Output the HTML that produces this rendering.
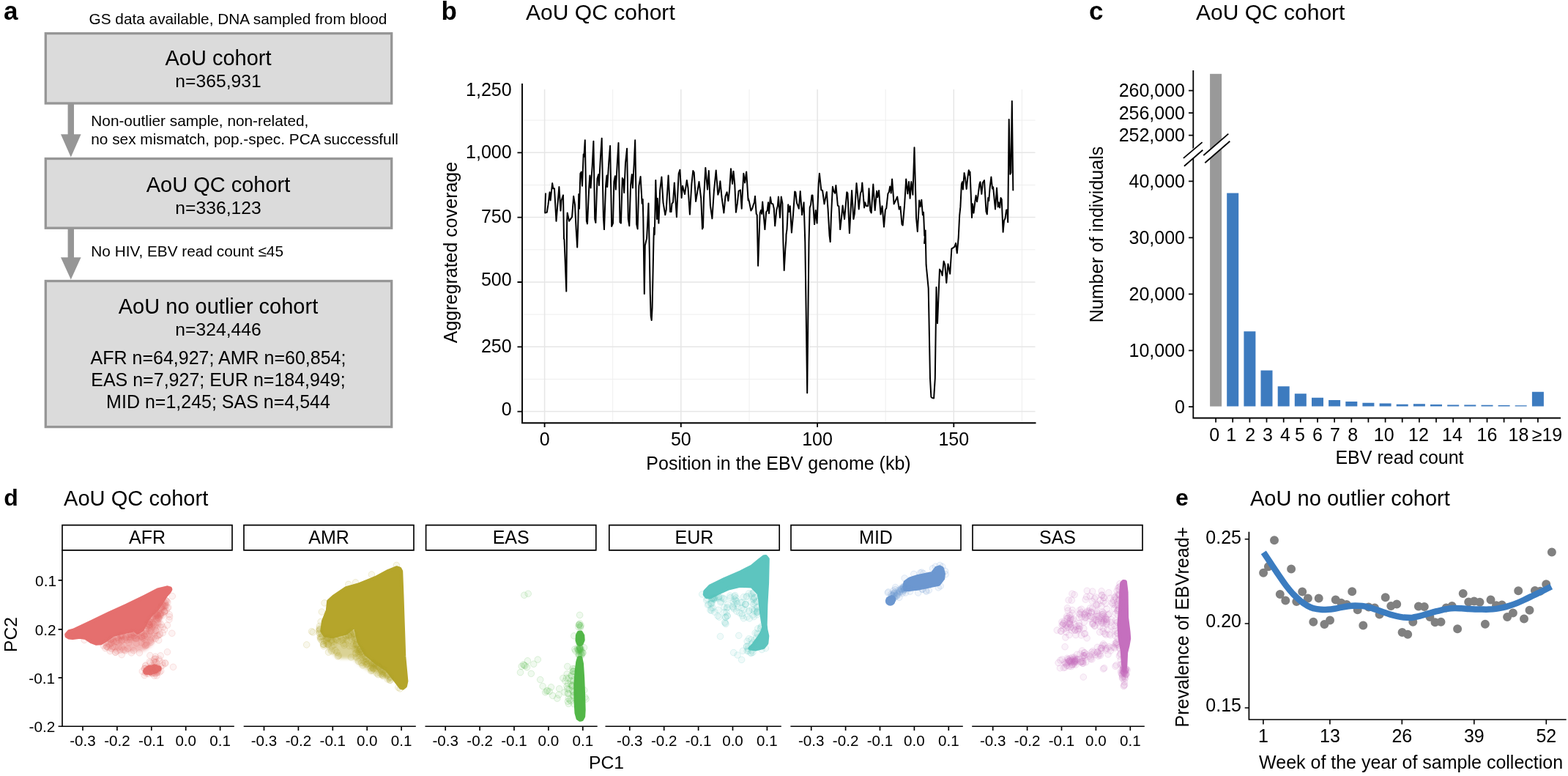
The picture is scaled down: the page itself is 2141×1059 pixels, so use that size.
<!DOCTYPE html>
<html lang="en"><head><meta charset="utf-8"><title>AoU EBV cohort figure</title>
<style>html,body{margin:0;padding:0;background:#fff;overflow:hidden}svg{display:block}text{font-family:"Liberation Sans",Arial,Helvetica,sans-serif;white-space:pre}</style>
</head><body>
<svg width="2141" height="1059" viewBox="0 0 2141 1059">
<rect width="2141" height="1059" fill="#fff"/>
<g id="panel-a">
<text x="5" y="27" font-size="35" font-weight="bold">a</text>
<text x="121.5" y="33" font-size="20.8">GS data available, DNA sampled from blood</text>
<rect x="62.3" y="45.6" width="472.40000000000003" height="95.4" fill="#dbdbdb" stroke="#969696" stroke-width="3.3"/>
<text x="298" y="89.4" font-size="29" text-anchor="middle">AoU cohort</text>
<text x="298" y="119" font-size="24.7" text-anchor="middle">n=365,931</text>
<path d="M92.6 141H101.0V183.2H110.6L96.8 214.6L83.0 183.2H92.6Z" fill="#969696"/>
<text x="124.3" y="172.3" font-size="20.8">Non-outlier sample, non-related,</text>
<text x="124.3" y="197.2" font-size="20.8">no sex mismatch, pop.-spec. PCA successfull</text>
<rect x="62.3" y="216.5" width="472.40000000000003" height="94.69999999999999" fill="#dbdbdb" stroke="#969696" stroke-width="3.3"/>
<text x="298" y="262" font-size="29" text-anchor="middle">AoU QC cohort</text>
<text x="298" y="292" font-size="24.7" text-anchor="middle">n=336,123</text>
<path d="M92.6 311H101.0V351.2H110.6L96.8 381.6L83.0 351.2H92.6Z" fill="#969696"/>
<text x="124.3" y="349.6" font-size="20.8">No HIV, EBV read count ≤45</text>
<rect x="62.3" y="383.5" width="472.40000000000003" height="199.10000000000002" fill="#dbdbdb" stroke="#969696" stroke-width="3.3"/>
<text x="298" y="428" font-size="29" text-anchor="middle">AoU no outlier cohort</text>
<text x="298" y="458" font-size="24.7" text-anchor="middle">n=324,446</text>
<text x="298" y="497" font-size="25" text-anchor="middle">AFR n=64,927; AMR n=60,854;</text>
<text x="298" y="527" font-size="25" text-anchor="middle">EAS n=7,927; EUR n=184,949;</text>
<text x="298" y="557" font-size="25" text-anchor="middle">MID n=1,245; SAS n=4,544</text>
</g>
<g id="panel-b">
<text x="602.4" y="27" font-size="35" font-weight="bold">b</text>
<text x="718" y="26.6" font-size="30.05">AoU QC cohort</text>
<path d="M714 517.4H1413.5M714 429.1H1413.5M714 340.8H1413.5M714 252.5H1413.5M714 164.1H1413.5M836.7 122V577M1023.0 122V577M1209.2 122V577M1395.4 122V577" stroke="#eeeeee" stroke-width="1" fill="none"/>
<path d="M714 561.6H1413.5M714 473.3H1413.5M714 385.0H1413.5M714 296.6H1413.5M714 208.3H1413.5M743.6 122V577M929.8 122V577M1116.1 122V577M1302.3 122V577" stroke="#e6e6e6" stroke-width="1.5" fill="none"/>
<path d="M745.0 264.3L744.2 290.5L746.8 289.8L748.5 279.2L750.6 262.2L751.6 273.5L754.2 250.1L755.3 257.2L757.0 257.2L759.5 301.8L763.4 255.1L765.5 287.6L766.6 273.5L769.0 266.4L770.0 325.9L770.5 326.7L773.3 397.6L774.2 300.0L774.7 290.5L777.1 301.8L781.1 296.1L783.2 267.8L785.0 279.2L786.7 313.1L788.2 337.4L789.2 310.0L790.3 265.0L791.0 284.8L792.4 236.7L793.8 234.5L795.0 253.7L796.7 210.5L797.4 214.0L798.8 191.3L800.9 301.8L802.0 305.4L804.4 253.7L805.4 239.5L806.6 256.5L808.7 226.7L810.4 192.7L812.2 299.0L813.4 303.9L815.5 243.7L817.2 238.1L817.9 252.9L820.0 214.0L821.7 188.8L823.9 296.1L825.0 313.1L827.1 253.7L828.5 239.5L829.2 255.1L831.4 219.7L833.1 199.1L835.2 308.9L837.0 304.6L838.4 248.0L839.9 240.2L840.8 258.6L842.7 225.3L844.5 194.9L846.5 303.2L847.9 304.6L849.8 243.0L851.2 245.2L852.2 262.9L854.0 222.5L856.1 202.7L857.8 299.0L859.3 308.2L861.1 252.9L862.8 238.1L863.9 256.5L865.8 222.5L867.2 191.3L869.2 306.1L870.6 312.4L872.4 253.7L874.6 240.9L876.7 277.7L877.7 272.1L878.3 297.2L879.8 401.1L880.8 335.0L882.1 329.3L883.1 325.5L884.0 308.5L885.5 277.4L886.8 344.4L887.8 401.1L888.7 431.3L889.7 437.0L890.6 420.0L892.5 325.5L893.1 310.4L893.8 319.9L895.3 245.9L897.0 299.0L897.7 270.7L899.4 304.6L901.2 259.3L903.4 241.6L905.5 276.3L908.3 293.3L909.7 286.2L911.4 259.3L912.6 239.5L915.1 289.1L916.5 289.1L917.5 277.7L919.0 276.3L920.8 249.4L923.9 296.1L925.3 265.0L926.7 236.7L928.4 231.7L930.6 269.9L932.1 253.7L935.0 265.0L937.8 245.9L939.5 256.5L941.9 292.6L944.4 250.8L946.3 233.1L947.7 235.2L950.1 274.9L952.2 262.2L954.5 248.0L957.2 270.7L959.0 312.4L960.0 310.3L961.0 270.7L963.3 228.9L966.0 258.6L967.8 233.1L969.9 280.6L972.4 298.3L974.9 260.7L977.7 232.4L980.3 265.7L981.7 262.2L983.4 247.3L985.5 269.2L988.4 290.5L990.5 267.8L992.6 262.2L994.4 274.2L996.1 259.3L998.0 230.3L1000.1 250.8L1001.5 233.8L1003.2 250.8L1004.9 289.8L1006.8 277.7L1008.6 260.7L1011.0 259.3L1012.7 284.8L1015.3 236.7L1017.1 249.4L1019.2 234.5L1021.6 273.5L1021.7 270.7L1022.8 274.2L1025.4 287.6L1027.1 284.8L1028.8 279.2L1029.9 276.3L1031.0 267.8L1032.7 291.9L1033.7 293.3L1035.1 362.7L1037.7 290.5L1039.1 286.9L1040.1 291.9L1041.2 275.6L1042.7 293.3L1044.4 313.1L1046.2 289.1L1047.6 287.6L1049.0 276.3L1050.0 291.2L1051.9 269.0L1053.3 277.7L1055.4 278.4L1056.8 284.8L1058.2 308.2L1060.4 286.2L1061.8 281.3L1062.9 268.5L1065.0 296.9L1066.7 268.5L1068.4 277.7L1069.4 330.0L1070.7 369.0L1072.3 340.0L1073.3 328.0L1073.5 320.2L1074.5 313.1L1076.2 279.2L1077.4 289.1L1078.8 281.3L1080.9 317.4L1083.0 293.3L1085.2 261.4L1086.3 262.2L1088.0 277.0L1089.4 280.6L1090.8 284.8L1092.7 261.0L1095.1 293.3L1097.6 276.3L1099.3 330.0L1102.2 536.2L1104.5 330.0L1105.7 283.4L1107.1 279.2L1108.5 266.4L1109.5 266.4L1112.1 306.1L1113.8 286.9L1115.6 304.6L1117.7 250.8L1118.9 236.7L1121.3 259.3L1123.1 260.0L1125.5 278.4L1128.8 261.9L1130.5 284.8L1132.6 321.6L1133.7 330.0L1135.0 293.3L1136.9 254.8L1138.3 260.7L1140.1 263.6L1141.4 252.9L1143.9 280.6L1145.4 281.3L1147.2 313.1L1148.9 297.6L1150.6 280.6L1153.1 299.0L1156.3 262.2L1157.4 263.6L1159.9 318.1L1163.1 260.0L1165.4 299.0L1166.8 291.9L1169.5 250.1L1171.0 265.0L1172.7 285.5L1174.9 263.6L1176.3 260.7L1177.3 249.4L1180.1 283.4L1181.2 276.3L1182.9 281.3L1185.2 281.3L1186.5 257.2L1188.3 287.6L1189.7 290.5L1192.3 251.5L1194.7 286.9L1197.1 260.7L1198.2 269.2L1200.1 260.0L1202.5 292.6L1204.6 281.3L1207.0 309.6L1208.9 286.2L1210.3 284.1L1212.4 264.3L1213.8 262.2L1215.2 254.4L1216.7 263.6L1218.1 244.4L1220.6 278.4L1223.0 273.5L1225.2 268.5L1227.7 285.5L1229.4 282.0L1231.5 306.1L1232.7 307.5L1235.1 279.2L1237.2 244.4L1239.3 264.3L1241.0 248.0L1242.6 270.7L1244.3 248.0L1246.4 265.7L1248.5 201.2L1251.1 297.6L1252.8 316.0L1255.2 273.5L1256.6 282.0L1258.3 272.8L1259.9 293.3L1261.0 289.8L1262.3 321.6L1263.7 314.6L1262.1 331.9L1263.6 314.7L1264.6 361.4L1267.7 393.3L1270.0 516.1L1271.4 541.8L1273.1 543.1L1275.1 543.6L1276.8 516.1L1278.5 392.1L1280.0 441.2L1283.0 367.5L1285.4 371.2L1286.6 376.1L1288.6 356.5L1290.3 361.4L1292.3 385.9L1294.5 360.2L1297.2 373.7L1299.4 339.3L1301.4 338.1L1303.3 336.8L1305.1 331.9L1306.8 345.4L1308.7 324.6L1310.2 293.9L1311.4 282.4L1312.9 251.3L1313.9 248.2L1314.9 258.5L1316.6 236.1L1318.0 243.0L1319.7 257.9L1321.6 239.8L1322.8 232.2L1323.7 238.8L1324.5 234.6L1327.0 297.0L1328.0 278.3L1329.5 290.7L1331.5 274.1L1332.6 266.8L1334.0 275.2L1335.3 267.9L1337.4 251.3L1338.4 248.2L1340.3 264.8L1341.9 249.2L1344.0 246.1L1346.5 288.7L1347.8 292.4L1349.2 270.0L1350.2 274.1L1351.7 255.4L1353.4 241.5L1355.0 257.5L1356.1 255.4L1359.0 285.5L1361.0 256.5L1362.7 282.4L1363.7 276.2L1365.2 283.5L1366.5 270.0L1367.7 272.0L1369.6 316.7L1371.0 301.1L1372.5 298.0L1374.1 286.6L1375.2 286.6L1376.2 303.2L1377.7 163.0L1379.3 237.8L1380.4 235.7L1381.8 138.0L1383.3 259.6" stroke="#000" stroke-width="2" fill="none" stroke-linejoin="round" stroke-linecap="round"/>
<path d="M713 114V577.2H1414.5" stroke="#000" stroke-width="1.9" fill="none"/>
<path d="M706.5 561.6H713M706.5 473.3H713M706.5 385.0H713M706.5 296.6H713M706.5 208.3H713M743.6 577.2V583M929.8 577.2V583M1116.1 577.2V583M1302.3 577.2V583" stroke="#000" stroke-width="1.8" fill="none"/>
<text x="698.6" y="567" font-size="25" text-anchor="end">0</text>
<text x="698.6" y="480.5" font-size="25" text-anchor="end">250</text>
<text x="698.6" y="390.3" font-size="25" text-anchor="end">500</text>
<text x="698.6" y="303.6" font-size="25" text-anchor="end">750</text>
<text x="698.6" y="215.9" font-size="25" text-anchor="end">1,000</text>
<text x="698.6" y="130.5" font-size="25" text-anchor="end">1,250</text>
<text x="743.6" y="607.5" font-size="25" text-anchor="middle">0</text>
<text x="929.835" y="607.5" font-size="25" text-anchor="middle">50</text>
<text x="1116.07" y="607.5" font-size="25" text-anchor="middle">100</text>
<text x="1302.305" y="607.5" font-size="25" text-anchor="middle">150</text>
<text x="1063" y="640.7" font-size="25" text-anchor="middle">Position in the EBV genome (kb)</text>
<text x="623.8" y="344.5" font-size="25" text-anchor="middle" transform="rotate(-90 623.8 344.5)">Aggregrated coverage</text>
</g>
<g id="panel-c">
<text x="1487" y="27" font-size="35" font-weight="bold">c</text>
<text x="1633" y="26.5" font-size="30">AoU QC cohort</text>
<rect x="1652.1" y="100.8" width="16" height="453.8" fill="#999"/>
<path d="M1675.2 263.6h16V554.6h-16ZM1698.4 452.3h16V554.6h-16ZM1721.5 505.4h16V554.6h-16ZM1744.7 527.2h16V554.6h-16ZM1767.8 537.2h16V554.6h-16ZM1791.0 542.7h16V554.6h-16ZM1814.1 545.9h16V554.6h-16ZM1837.3 548.1h16V554.6h-16ZM1860.4 549.8h16V554.6h-16ZM1883.6 550.5h16V554.6h-16ZM1906.7 551.7h16V554.6h-16ZM1929.9 551.3h16V554.6h-16ZM1953.0 552.1h16V554.6h-16ZM1976.2 552.4h16V554.6h-16ZM1999.3 552.5h16V554.6h-16ZM2022.5 552.8h16V554.6h-16ZM2045.6 553.1h16V554.6h-16ZM2068.7 553.3h16V554.6h-16ZM2091.9 534.7h16V554.6h-16Z" fill="#3d7bbf"/>
<path d="M1629.3 96V570.5H2131" stroke="#000" stroke-width="1.8" fill="none"/>
<path d="M1623 123.6H1629.3M1623 154.2H1629.3M1623 184.7H1629.3M1623 247.3H1629.3M1623 324.3H1629.3M1623 401.3H1629.3M1623 478.3H1629.3M1623 555.2H1629.3M1660.1 570.5V576.5M1683.2 570.5V576.5M1706.4 570.5V576.5M1729.5 570.5V576.5M1752.7 570.5V576.5M1775.8 570.5V576.5M1799.0 570.5V576.5M1822.1 570.5V576.5M1845.3 570.5V576.5M1868.4 570.5V576.5M1891.6 570.5V576.5M1914.7 570.5V576.5M1937.9 570.5V576.5M1961.0 570.5V576.5M1984.2 570.5V576.5M2007.3 570.5V576.5M2030.5 570.5V576.5M2053.6 570.5V576.5M2076.7 570.5V576.5M2099.9 570.5V576.5" stroke="#000" stroke-width="1.7" fill="none"/>
<text x="1618" y="132.0" font-size="25" text-anchor="end">260,000</text>
<text x="1618" y="162.6" font-size="25" text-anchor="end">256,000</text>
<text x="1618" y="193.1" font-size="25" text-anchor="end">252,000</text>
<text x="1618" y="255.70000000000002" font-size="25" text-anchor="end">40,000</text>
<text x="1618" y="332.7" font-size="25" text-anchor="end">30,000</text>
<text x="1618" y="409.7" font-size="25" text-anchor="end">20,000</text>
<text x="1618" y="486.7" font-size="25" text-anchor="end">10,000</text>
<text x="1618" y="563.6" font-size="25" text-anchor="end">0</text>
<text x="1658.1" y="601.6" font-size="25" text-anchor="middle">0</text>
<text x="1681.2" y="601.6" font-size="25" text-anchor="middle">1</text>
<text x="1707.1" y="601.6" font-size="25" text-anchor="middle">2</text>
<text x="1730.9" y="601.6" font-size="25" text-anchor="middle">3</text>
<text x="1755" y="601.6" font-size="25" text-anchor="middle">4</text>
<text x="1774.9" y="601.6" font-size="25" text-anchor="middle">5</text>
<text x="1798.9" y="601.6" font-size="25" text-anchor="middle">6</text>
<text x="1823" y="601.6" font-size="25" text-anchor="middle">7</text>
<text x="1847.3" y="601.6" font-size="25" text-anchor="middle">8</text>
<text x="1889.7" y="601.6" font-size="25" text-anchor="middle">10</text>
<text x="1936.9" y="601.6" font-size="25" text-anchor="middle">12</text>
<text x="1982.9" y="601.6" font-size="25" text-anchor="middle">14</text>
<text x="2030.4" y="601.6" font-size="25" text-anchor="middle">16</text>
<text x="2073.5" y="601.6" font-size="25" text-anchor="middle">18</text>
<text x="2133.2" y="601.6" font-size="25" text-anchor="end">≥19</text>
<path d="M1614 222L1644 197" stroke="#fff" stroke-width="10.5" fill="none"/>
<path d="M1643 218L1680 187" stroke="#fff" stroke-width="10" fill="none"/>
<path d="M1615.9 215.9L1641.6 194.1M1616.9 226.8L1642.3 204.7M1643.3 212L1677.3 182.6M1645.3 222.2L1679.3 192.8" stroke="#000" stroke-width="1.8" fill="none"/>
<text x="1911" y="633.4" font-size="25" text-anchor="middle">EBV read count</text>
<text x="1506" y="320" font-size="25" text-anchor="middle" transform="rotate(-90 1506 320)">Number of individuals</text>
</g>
<g id="panel-d">
<text x="5.3" y="690" font-size="32" font-weight="bold">d</text>
<text x="87" y="689.8" font-size="29.1">AoU QC cohort</text>
<defs><filter id="bl" filterUnits="userSpaceOnUse" x="0" y="740" width="1600" height="260" color-interpolation-filters="sRGB"><feGaussianBlur stdDeviation="2.2"/></filter></defs>
<g fill="#e56f6e" stroke="#e56f6e">
<path d="M140.1 881.2L155.2 868.5L182.8 862.2L187.7 866.1L195.2 861.5L203.0 847.2L216.1 833.1L225.6 819.2L228.0 822.9L221.7 836.2L219.0 853.0L214.9 869.0L206.9 880.9L196.9 888.0L170.0 889.9L150.1 887.5Z" stroke="none" fill-opacity="0.5" filter="url(#bl)"/>
<path d="M90.7 866.0L94.4 861.7L100.1 860.2L124.5 848.7L148.8 837.0L173.1 826.1L197.4 814.2L215.4 805.0L228.0 801.8L232.4 802.9L232.9 804.3L231.5 807.1L226.5 812.8L219.9 823.4L214.4 831.6L207.0 838.1L201.1 846.0L197.2 853.9L193.6 859.9L187.9 863.4L183.4 859.9L168.5 863.0L154.2 866.5L144.2 874.0L137.5 877.8L131.2 878.2L124.6 875.6L117.1 870.6L109.1 869.2L99.2 870.5L93.9 870.0L91.1 868.2Z" stroke-width="5" stroke-linejoin="round"/>
<circle cx="204.9" cy="914.4" r="7.0" stroke="none"/>
<circle cx="211.0" cy="913.2" r="6.6" stroke="none"/>
<circle cx="200.1" cy="916.1" r="5.1" stroke="none"/>
<circle cx="216.6" cy="912.3" r="4.1" stroke="none"/>
<g fill-opacity="0.09" stroke-opacity="0.2" stroke-width="0.9">
<circle cx="218.7" cy="840.5" r="4.3"/><circle cx="191.9" cy="867.7" r="4.3"/><circle cx="201.5" cy="851.2" r="4.3"/><circle cx="176.1" cy="876.9" r="4.3"/><circle cx="193.2" cy="863.1" r="4.3"/><circle cx="181.6" cy="869.6" r="4.3"/><circle cx="215.2" cy="840.1" r="4.3"/><circle cx="182.6" cy="863.8" r="4.3"/><circle cx="185.6" cy="866.0" r="4.3"/><circle cx="198.8" cy="880.2" r="4.3"/><circle cx="208.2" cy="855.2" r="4.3"/><circle cx="205.8" cy="861.3" r="4.3"/><circle cx="178.6" cy="865.6" r="4.3"/><circle cx="185.2" cy="871.9" r="4.3"/><circle cx="150.7" cy="873.7" r="4.3"/><circle cx="202.3" cy="851.1" r="4.3"/><circle cx="143.8" cy="884.6" r="4.3"/><circle cx="206.6" cy="860.8" r="4.3"/><circle cx="207.6" cy="841.7" r="4.3"/><circle cx="226.2" cy="819.4" r="4.3"/><circle cx="222.5" cy="855.8" r="4.3"/><circle cx="166.3" cy="883.3" r="4.3"/><circle cx="225.3" cy="827.9" r="4.3"/><circle cx="197.2" cy="872.3" r="4.3"/><circle cx="183.9" cy="870.4" r="4.3"/><circle cx="215.0" cy="836.0" r="4.3"/><circle cx="229.9" cy="829.0" r="4.3"/><circle cx="170.9" cy="887.7" r="4.3"/><circle cx="226.9" cy="819.9" r="4.3"/><circle cx="154.8" cy="876.5" r="4.3"/><circle cx="231.2" cy="838.6" r="4.3"/><circle cx="204.3" cy="852.8" r="4.3"/><circle cx="176.0" cy="866.2" r="4.3"/><circle cx="147.4" cy="883.4" r="4.3"/><circle cx="224.1" cy="821.1" r="4.3"/><circle cx="193.7" cy="868.7" r="4.3"/><circle cx="212.6" cy="860.6" r="4.3"/><circle cx="188.9" cy="867.7" r="4.3"/><circle cx="151.5" cy="872.1" r="4.3"/><circle cx="225.2" cy="826.5" r="4.3"/><circle cx="176.9" cy="869.2" r="4.3"/><circle cx="225.7" cy="823.1" r="4.3"/><circle cx="224.7" cy="834.2" r="4.3"/><circle cx="209.6" cy="852.4" r="4.3"/><circle cx="215.0" cy="837.7" r="4.3"/><circle cx="222.3" cy="828.3" r="4.3"/><circle cx="159.7" cy="888.2" r="4.3"/><circle cx="227.0" cy="826.3" r="4.3"/><circle cx="163.0" cy="873.6" r="4.3"/><circle cx="218.0" cy="866.1" r="4.3"/><circle cx="203.3" cy="856.7" r="4.3"/><circle cx="221.8" cy="824.7" r="4.3"/><circle cx="221.3" cy="836.5" r="4.3"/><circle cx="206.6" cy="851.8" r="4.3"/><circle cx="208.1" cy="850.7" r="4.3"/><circle cx="166.0" cy="866.8" r="4.3"/><circle cx="230.9" cy="845.6" r="4.3"/><circle cx="176.4" cy="872.3" r="4.3"/><circle cx="197.3" cy="869.3" r="4.3"/><circle cx="216.1" cy="867.2" r="4.3"/><circle cx="197.3" cy="867.5" r="4.3"/><circle cx="182.6" cy="887.8" r="4.3"/><circle cx="186.5" cy="877.9" r="4.3"/><circle cx="212.3" cy="843.7" r="4.3"/><circle cx="197.1" cy="879.0" r="4.3"/><circle cx="193.4" cy="870.9" r="4.3"/><circle cx="200.2" cy="853.6" r="4.3"/><circle cx="198.6" cy="881.5" r="4.3"/><circle cx="165.8" cy="874.7" r="4.3"/><circle cx="219.0" cy="855.8" r="4.3"/><circle cx="178.1" cy="870.6" r="4.3"/><circle cx="213.8" cy="840.0" r="4.3"/><circle cx="192.9" cy="876.9" r="4.3"/><circle cx="204.7" cy="861.0" r="4.3"/><circle cx="219.9" cy="838.7" r="4.3"/><circle cx="216.9" cy="844.0" r="4.3"/><circle cx="213.7" cy="844.5" r="4.3"/><circle cx="141.1" cy="881.0" r="4.3"/><circle cx="166.8" cy="873.3" r="4.3"/><circle cx="193.7" cy="862.8" r="4.3"/><circle cx="219.0" cy="829.5" r="4.3"/><circle cx="161.4" cy="870.7" r="4.3"/><circle cx="165.2" cy="868.3" r="4.3"/><circle cx="204.4" cy="853.8" r="4.3"/><circle cx="219.0" cy="836.6" r="4.3"/><circle cx="220.0" cy="852.2" r="4.3"/><circle cx="185.7" cy="871.3" r="4.3"/><circle cx="166.9" cy="873.6" r="4.3"/><circle cx="178.2" cy="866.2" r="4.3"/><circle cx="212.4" cy="836.9" r="4.3"/><circle cx="215.6" cy="845.3" r="4.3"/><circle cx="150.8" cy="872.9" r="4.3"/><circle cx="161.8" cy="882.9" r="4.3"/><circle cx="220.1" cy="827.6" r="4.3"/><circle cx="165.8" cy="867.6" r="4.3"/><circle cx="210.8" cy="840.3" r="4.3"/><circle cx="218.3" cy="865.2" r="4.3"/><circle cx="202.9" cy="848.6" r="4.3"/><circle cx="215.8" cy="839.9" r="4.3"/><circle cx="213.6" cy="838.3" r="4.3"/><circle cx="203.6" cy="852.8" r="4.3"/><circle cx="216.9" cy="841.0" r="4.3"/><circle cx="207.5" cy="843.4" r="4.3"/><circle cx="215.5" cy="842.9" r="4.3"/><circle cx="216.1" cy="836.6" r="4.3"/><circle cx="154.2" cy="874.2" r="4.3"/><circle cx="199.7" cy="858.0" r="4.3"/><circle cx="168.9" cy="886.8" r="4.3"/><circle cx="154.0" cy="870.8" r="4.3"/><circle cx="219.1" cy="837.7" r="4.3"/><circle cx="145.6" cy="882.5" r="4.3"/><circle cx="152.0" cy="876.0" r="4.3"/><circle cx="222.1" cy="863.8" r="4.3"/><circle cx="180.9" cy="862.9" r="4.3"/><circle cx="196.9" cy="867.3" r="4.3"/><circle cx="222.6" cy="839.5" r="4.3"/><circle cx="161.6" cy="872.8" r="4.3"/><circle cx="224.9" cy="834.5" r="4.3"/><circle cx="205.7" cy="843.6" r="4.3"/><circle cx="199.3" cy="864.8" r="4.3"/><circle cx="184.0" cy="867.5" r="4.3"/><circle cx="223.1" cy="826.4" r="4.3"/><circle cx="174.6" cy="885.2" r="4.3"/><circle cx="212.3" cy="871.6" r="4.3"/><circle cx="207.1" cy="856.9" r="4.3"/><circle cx="198.9" cy="860.3" r="4.3"/><circle cx="205.1" cy="849.0" r="4.3"/><circle cx="167.1" cy="868.2" r="4.3"/><circle cx="166.2" cy="893.5" r="4.3"/><circle cx="204.6" cy="848.6" r="4.3"/><circle cx="195.0" cy="870.6" r="4.3"/><circle cx="196.5" cy="860.2" r="4.3"/><circle cx="202.9" cy="852.9" r="4.3"/><circle cx="171.7" cy="869.7" r="4.3"/><circle cx="207.3" cy="849.2" r="4.3"/><circle cx="144.3" cy="876.6" r="4.3"/><circle cx="204.5" cy="855.5" r="4.3"/><circle cx="202.5" cy="850.5" r="4.3"/><circle cx="220.0" cy="829.3" r="4.3"/><circle cx="218.5" cy="838.0" r="4.3"/><circle cx="183.0" cy="863.4" r="4.3"/><circle cx="224.5" cy="834.1" r="4.3"/><circle cx="175.8" cy="869.2" r="4.3"/><circle cx="172.5" cy="867.8" r="4.3"/><circle cx="225.6" cy="825.2" r="4.3"/><circle cx="157.7" cy="889.9" r="4.3"/><circle cx="159.6" cy="875.7" r="4.3"/><circle cx="211.9" cy="841.2" r="4.3"/><circle cx="171.9" cy="869.6" r="4.3"/><circle cx="220.7" cy="827.1" r="4.3"/><circle cx="163.9" cy="887.2" r="4.3"/><circle cx="206.7" cy="870.8" r="4.3"/><circle cx="211.9" cy="837.6" r="4.3"/><circle cx="204.4" cy="848.5" r="4.3"/><circle cx="215.6" cy="849.6" r="4.3"/><circle cx="203.5" cy="852.4" r="4.3"/><circle cx="154.0" cy="882.6" r="4.3"/><circle cx="214.0" cy="837.5" r="4.3"/><circle cx="206.2" cy="876.3" r="4.3"/><circle cx="220.5" cy="830.6" r="4.3"/><circle cx="227.0" cy="833.4" r="4.3"/><circle cx="163.6" cy="867.0" r="4.3"/><circle cx="213.6" cy="845.2" r="4.3"/><circle cx="220.7" cy="828.2" r="4.3"/><circle cx="203.8" cy="865.6" r="4.3"/><circle cx="215.4" cy="839.2" r="4.3"/><circle cx="170.5" cy="872.4" r="4.3"/><circle cx="216.8" cy="843.3" r="4.3"/><circle cx="154.8" cy="872.7" r="4.3"/><circle cx="205.6" cy="873.9" r="4.3"/><circle cx="231.6" cy="841.8" r="4.3"/><circle cx="150.6" cy="878.4" r="4.3"/><circle cx="211.7" cy="854.1" r="4.3"/><circle cx="167.0" cy="866.6" r="4.3"/><circle cx="182.6" cy="867.7" r="4.3"/><circle cx="179.8" cy="863.5" r="4.3"/><circle cx="204.1" cy="852.2" r="4.3"/><circle cx="216.7" cy="873.7" r="4.3"/><circle cx="178.4" cy="872.9" r="4.3"/><circle cx="145.9" cy="882.2" r="4.3"/><circle cx="187.0" cy="868.5" r="4.3"/><circle cx="162.2" cy="877.8" r="4.3"/><circle cx="192.5" cy="869.4" r="4.3"/><circle cx="149.1" cy="879.3" r="4.3"/><circle cx="212.7" cy="840.2" r="4.3"/><circle cx="152.2" cy="885.2" r="4.3"/><circle cx="194.2" cy="868.6" r="4.3"/><circle cx="223.0" cy="832.1" r="4.3"/><circle cx="156.6" cy="882.8" r="4.3"/><circle cx="228.6" cy="829.6" r="4.3"/><circle cx="159.3" cy="869.2" r="4.3"/><circle cx="186.4" cy="870.7" r="4.3"/><circle cx="200.7" cy="880.2" r="4.3"/><circle cx="158.2" cy="875.2" r="4.3"/><circle cx="199.9" cy="877.6" r="4.3"/><circle cx="209.8" cy="841.4" r="4.3"/><circle cx="152.5" cy="872.1" r="4.3"/><circle cx="173.0" cy="873.7" r="4.3"/><circle cx="199.9" cy="861.9" r="4.3"/><circle cx="163.8" cy="867.7" r="4.3"/><circle cx="165.8" cy="869.5" r="4.3"/><circle cx="160.1" cy="870.0" r="4.3"/><circle cx="179.8" cy="867.5" r="4.3"/><circle cx="223.7" cy="828.0" r="4.3"/><circle cx="210.2" cy="852.0" r="4.3"/><circle cx="228.9" cy="822.0" r="4.3"/><circle cx="152.5" cy="877.5" r="4.3"/><circle cx="207.7" cy="844.6" r="4.3"/><circle cx="214.9" cy="838.7" r="4.3"/><circle cx="201.2" cy="868.7" r="4.3"/><circle cx="213.8" cy="911.3" r="4.3"/><circle cx="202.4" cy="915.6" r="4.3"/><circle cx="210.5" cy="908.5" r="4.3"/><circle cx="211.2" cy="912.8" r="4.3"/><circle cx="205.4" cy="917.0" r="4.3"/><circle cx="212.8" cy="916.6" r="4.3"/><circle cx="219.7" cy="915.7" r="4.3"/><circle cx="208.5" cy="916.1" r="4.3"/><circle cx="217.9" cy="917.2" r="4.3"/><circle cx="210.4" cy="918.5" r="4.3"/><circle cx="198.5" cy="918.5" r="4.3"/><circle cx="213.5" cy="913.8" r="4.3"/><circle cx="198.7" cy="909.0" r="4.3"/><circle cx="194.3" cy="916.1" r="4.3"/><circle cx="207.5" cy="911.6" r="4.3"/><circle cx="214.1" cy="911.3" r="4.3"/><circle cx="215.0" cy="917.7" r="4.3"/><circle cx="211.9" cy="910.8" r="4.3"/><circle cx="201.3" cy="915.1" r="4.3"/><circle cx="215.2" cy="911.0" r="4.3"/><circle cx="209.7" cy="918.0" r="4.3"/><circle cx="197.3" cy="921.6" r="4.3"/><circle cx="207.0" cy="912.9" r="4.3"/><circle cx="209.6" cy="914.2" r="4.3"/><circle cx="202.2" cy="912.6" r="4.3"/><circle cx="206.7" cy="910.9" r="4.3"/><circle cx="214.8" cy="917.1" r="4.3"/><circle cx="213.1" cy="908.9" r="4.3"/><circle cx="205.2" cy="916.7" r="4.3"/><circle cx="207.7" cy="908.1" r="4.3"/><circle cx="210.7" cy="922.1" r="4.3"/><circle cx="215.1" cy="914.5" r="4.3"/><circle cx="200.6" cy="918.6" r="4.3"/><circle cx="212.1" cy="913.6" r="4.3"/><circle cx="206.2" cy="917.8" r="4.3"/><circle cx="207.6" cy="912.4" r="4.3"/><circle cx="200.7" cy="913.4" r="4.3"/><circle cx="206.3" cy="912.9" r="4.3"/><circle cx="236.5" cy="910.3" r="4.3"/><circle cx="197.3" cy="912.3" r="4.3"/><circle cx="214.0" cy="922.0" r="4.3"/><circle cx="197.6" cy="912.7" r="4.3"/><circle cx="212.3" cy="912.1" r="4.3"/><circle cx="212.1" cy="913.5" r="4.3"/><circle cx="215.8" cy="915.3" r="4.3"/><circle cx="219.4" cy="910.0" r="4.3"/><circle cx="215.6" cy="913.5" r="4.3"/><circle cx="215.8" cy="912.8" r="4.3"/><circle cx="213.8" cy="918.7" r="4.3"/><circle cx="210.4" cy="911.1" r="4.3"/><circle cx="204.0" cy="913.0" r="4.3"/><circle cx="207.0" cy="918.4" r="4.3"/><circle cx="200.8" cy="914.3" r="4.3"/><circle cx="208.7" cy="914.9" r="4.3"/><circle cx="202.5" cy="919.6" r="4.3"/><circle cx="208.1" cy="912.0" r="4.3"/><circle cx="207.8" cy="919.1" r="4.3"/><circle cx="212.1" cy="919.1" r="4.3"/><circle cx="211.7" cy="913.3" r="4.3"/><circle cx="199.1" cy="911.7" r="4.3"/><circle cx="212.2" cy="896.1" r="4.3"/><circle cx="211.1" cy="899.0" r="4.3"/><circle cx="219.2" cy="894.8" r="4.3"/><circle cx="225.5" cy="904.6" r="4.3"/><circle cx="209.9" cy="902.4" r="4.3"/><circle cx="221.7" cy="904.6" r="4.3"/><circle cx="210.8" cy="900.0" r="4.3"/><circle cx="204.2" cy="903.1" r="4.3"/><circle cx="217.5" cy="901.8" r="4.3"/><circle cx="212.7" cy="899.1" r="4.3"/><circle cx="213.3" cy="903.9" r="4.3"/><circle cx="205.4" cy="904.5" r="4.3"/><circle cx="211.1" cy="903.9" r="4.3"/><circle cx="212.7" cy="903.3" r="4.3"/><circle cx="224.4" cy="836.2" r="4.3"/><circle cx="228.5" cy="853.2" r="4.3"/><circle cx="234.8" cy="864.2" r="4.3"/><circle cx="224.4" cy="859.3" r="4.3"/><circle cx="228.5" cy="889.7" r="4.3"/><circle cx="235.3" cy="813.6" r="4.3"/><circle cx="228.0" cy="820.4" r="4.3"/><circle cx="214.7" cy="867.8" r="4.3"/><circle cx="157.6" cy="890.4" r="4.3"/><circle cx="150.3" cy="888.5" r="4.3"/><circle cx="190.4" cy="890.9" r="4.3"/><circle cx="179.4" cy="890.9" r="4.3"/><circle cx="225.6" cy="905.5" r="4.3"/><circle cx="222.0" cy="907.9" r="4.3"/><circle cx="198.9" cy="907.9" r="4.3"/><circle cx="217.1" cy="899.4" r="4.3"/><circle cx="204.9" cy="894.5" r="4.3"/><circle cx="115.1" cy="873.4" r="4.3"/>
</g></g>
<g fill="#b5a52b" stroke="#b5a52b">
<path d="M440.6 867.8L473.3 866.6L483.1 856.9L487.9 876.3L497.6 893.3L512.2 905.5L526.8 915.2L534.1 926.1L521.9 922.9L507.4 917.6L491.6 907.9L481.8 898.7L463.6 898.7L450.3 889.7L441.3 877.5Z" stroke="none" fill-opacity="0.5" filter="url(#bl)"/>
<path d="M541.4 774.7L545.9 776.1L547.7 779.7L548.9 810.8L550.1 847.2L551.8 895.9L554.9 929.6L553.5 936.3L550.1 939.0L547.0 938.0L538.2 926.4L528.3 914.0L513.5 904.2L499.4 892.4L490.0 876.0L484.9 854.2L472.4 864.1L453.8 868.7L443.6 867.0L439.7 861.2L441.5 847.7L447.3 833.1L448.7 820.3L455.3 814.4L471.9 803.0L488.6 798.2L513.1 788.4L530.2 779.2Z" stroke-width="5" stroke-linejoin="round"/>
<g fill-opacity="0.09" stroke-opacity="0.2" stroke-width="0.9">
<circle cx="476.3" cy="868.2" r="4.3"/><circle cx="437.9" cy="869.0" r="4.3"/><circle cx="446.1" cy="875.3" r="4.3"/><circle cx="486.1" cy="879.8" r="4.3"/><circle cx="532.7" cy="924.0" r="4.3"/><circle cx="476.5" cy="867.1" r="4.3"/><circle cx="532.4" cy="928.4" r="4.3"/><circle cx="438.6" cy="869.8" r="4.3"/><circle cx="437.0" cy="869.7" r="4.3"/><circle cx="498.5" cy="903.6" r="4.3"/><circle cx="492.2" cy="885.5" r="4.3"/><circle cx="437.2" cy="858.8" r="4.3"/><circle cx="486.8" cy="879.7" r="4.3"/><circle cx="510.5" cy="908.4" r="4.3"/><circle cx="479.1" cy="866.2" r="4.3"/><circle cx="486.3" cy="891.2" r="4.3"/><circle cx="483.4" cy="865.1" r="4.3"/><circle cx="507.8" cy="914.7" r="4.3"/><circle cx="436.1" cy="861.3" r="4.3"/><circle cx="436.1" cy="857.6" r="4.3"/><circle cx="513.3" cy="907.4" r="4.3"/><circle cx="441.8" cy="881.6" r="4.3"/><circle cx="515.9" cy="909.9" r="4.3"/><circle cx="494.8" cy="897.7" r="4.3"/><circle cx="500.7" cy="899.8" r="4.3"/><circle cx="448.0" cy="870.5" r="4.3"/><circle cx="483.3" cy="869.3" r="4.3"/><circle cx="487.1" cy="878.1" r="4.3"/><circle cx="517.4" cy="909.6" r="4.3"/><circle cx="457.6" cy="887.4" r="4.3"/><circle cx="496.3" cy="901.6" r="4.3"/><circle cx="522.7" cy="913.7" r="4.3"/><circle cx="474.8" cy="865.7" r="4.3"/><circle cx="500.5" cy="906.5" r="4.3"/><circle cx="520.3" cy="920.0" r="4.3"/><circle cx="485.0" cy="873.3" r="4.3"/><circle cx="492.1" cy="889.2" r="4.3"/><circle cx="483.1" cy="864.3" r="4.3"/><circle cx="507.5" cy="909.3" r="4.3"/><circle cx="472.9" cy="868.0" r="4.3"/><circle cx="486.2" cy="885.7" r="4.3"/><circle cx="492.2" cy="885.8" r="4.3"/><circle cx="448.5" cy="890.1" r="4.3"/><circle cx="450.9" cy="871.2" r="4.3"/><circle cx="485.8" cy="868.5" r="4.3"/><circle cx="485.7" cy="871.7" r="4.3"/><circle cx="501.2" cy="906.2" r="4.3"/><circle cx="458.7" cy="873.5" r="4.3"/><circle cx="494.4" cy="892.4" r="4.3"/><circle cx="486.6" cy="878.8" r="4.3"/><circle cx="442.2" cy="879.3" r="4.3"/><circle cx="523.1" cy="916.6" r="4.3"/><circle cx="522.3" cy="921.4" r="4.3"/><circle cx="506.0" cy="905.1" r="4.3"/><circle cx="514.2" cy="912.1" r="4.3"/><circle cx="461.5" cy="873.9" r="4.3"/><circle cx="487.6" cy="876.1" r="4.3"/><circle cx="521.2" cy="916.2" r="4.3"/><circle cx="490.4" cy="886.5" r="4.3"/><circle cx="489.9" cy="894.6" r="4.3"/><circle cx="480.6" cy="872.0" r="4.3"/><circle cx="489.4" cy="902.5" r="4.3"/><circle cx="523.3" cy="913.4" r="4.3"/><circle cx="490.7" cy="883.7" r="4.3"/><circle cx="445.4" cy="873.4" r="4.3"/><circle cx="511.3" cy="906.8" r="4.3"/><circle cx="453.8" cy="873.3" r="4.3"/><circle cx="513.7" cy="909.0" r="4.3"/><circle cx="492.3" cy="890.3" r="4.3"/><circle cx="529.0" cy="921.2" r="4.3"/><circle cx="439.9" cy="875.1" r="4.3"/><circle cx="531.1" cy="926.5" r="4.3"/><circle cx="485.4" cy="891.4" r="4.3"/><circle cx="468.8" cy="878.0" r="4.3"/><circle cx="509.3" cy="911.6" r="4.3"/><circle cx="447.6" cy="870.3" r="4.3"/><circle cx="472.7" cy="872.5" r="4.3"/><circle cx="482.6" cy="878.8" r="4.3"/><circle cx="525.7" cy="917.4" r="4.3"/><circle cx="522.7" cy="919.0" r="4.3"/><circle cx="449.0" cy="870.5" r="4.3"/><circle cx="442.6" cy="874.0" r="4.3"/><circle cx="468.6" cy="873.2" r="4.3"/><circle cx="452.3" cy="873.9" r="4.3"/><circle cx="448.2" cy="880.5" r="4.3"/><circle cx="458.0" cy="871.1" r="4.3"/><circle cx="509.8" cy="906.3" r="4.3"/><circle cx="507.1" cy="903.6" r="4.3"/><circle cx="533.5" cy="924.2" r="4.3"/><circle cx="522.6" cy="920.8" r="4.3"/><circle cx="510.9" cy="904.9" r="4.3"/><circle cx="435.9" cy="859.8" r="4.3"/><circle cx="498.2" cy="895.2" r="4.3"/><circle cx="488.5" cy="886.2" r="4.3"/><circle cx="503.5" cy="901.9" r="4.3"/><circle cx="470.0" cy="880.7" r="4.3"/><circle cx="477.8" cy="862.8" r="4.3"/><circle cx="447.8" cy="878.9" r="4.3"/><circle cx="529.2" cy="927.0" r="4.3"/><circle cx="445.5" cy="877.9" r="4.3"/><circle cx="472.0" cy="878.8" r="4.3"/><circle cx="486.2" cy="896.7" r="4.3"/><circle cx="503.6" cy="901.8" r="4.3"/><circle cx="522.9" cy="922.6" r="4.3"/><circle cx="495.1" cy="894.3" r="4.3"/><circle cx="480.8" cy="881.4" r="4.3"/><circle cx="489.1" cy="883.7" r="4.3"/><circle cx="436.2" cy="864.4" r="4.3"/><circle cx="514.6" cy="908.1" r="4.3"/><circle cx="483.9" cy="873.9" r="4.3"/><circle cx="452.3" cy="872.5" r="4.3"/><circle cx="481.1" cy="862.3" r="4.3"/><circle cx="494.1" cy="888.0" r="4.3"/><circle cx="447.6" cy="870.7" r="4.3"/><circle cx="486.1" cy="881.2" r="4.3"/><circle cx="446.1" cy="870.8" r="4.3"/><circle cx="471.4" cy="869.3" r="4.3"/><circle cx="528.9" cy="919.6" r="4.3"/><circle cx="436.5" cy="859.2" r="4.3"/><circle cx="477.1" cy="881.7" r="4.3"/><circle cx="489.6" cy="891.9" r="4.3"/><circle cx="501.0" cy="903.8" r="4.3"/><circle cx="441.9" cy="879.1" r="4.3"/><circle cx="459.3" cy="872.9" r="4.3"/><circle cx="480.1" cy="861.3" r="4.3"/><circle cx="478.5" cy="865.4" r="4.3"/><circle cx="491.9" cy="886.1" r="4.3"/><circle cx="464.4" cy="868.5" r="4.3"/><circle cx="496.5" cy="896.0" r="4.3"/><circle cx="483.7" cy="870.8" r="4.3"/><circle cx="518.9" cy="911.9" r="4.3"/><circle cx="533.4" cy="926.0" r="4.3"/><circle cx="520.3" cy="914.8" r="4.3"/><circle cx="490.1" cy="889.2" r="4.3"/><circle cx="524.4" cy="919.7" r="4.3"/><circle cx="506.6" cy="915.5" r="4.3"/><circle cx="510.7" cy="912.0" r="4.3"/><circle cx="436.4" cy="863.8" r="4.3"/><circle cx="528.2" cy="921.8" r="4.3"/><circle cx="468.1" cy="871.0" r="4.3"/><circle cx="493.5" cy="904.6" r="4.3"/><circle cx="519.6" cy="913.7" r="4.3"/><circle cx="460.0" cy="890.2" r="4.3"/><circle cx="464.1" cy="875.1" r="4.3"/><circle cx="448.1" cy="879.3" r="4.3"/><circle cx="516.3" cy="920.6" r="4.3"/><circle cx="502.8" cy="905.1" r="4.3"/><circle cx="495.2" cy="891.5" r="4.3"/><circle cx="494.1" cy="889.1" r="4.3"/><circle cx="524.1" cy="915.0" r="4.3"/><circle cx="453.4" cy="882.2" r="4.3"/><circle cx="455.9" cy="880.1" r="4.3"/><circle cx="483.7" cy="864.4" r="4.3"/><circle cx="517.6" cy="910.9" r="4.3"/><circle cx="455.7" cy="875.5" r="4.3"/><circle cx="508.1" cy="905.9" r="4.3"/><circle cx="508.9" cy="904.6" r="4.3"/><circle cx="440.5" cy="868.0" r="4.3"/><circle cx="517.6" cy="909.9" r="4.3"/><circle cx="484.8" cy="886.2" r="4.3"/><circle cx="447.6" cy="871.4" r="4.3"/><circle cx="440.0" cy="868.9" r="4.3"/><circle cx="437.6" cy="872.4" r="4.3"/><circle cx="499.0" cy="899.2" r="4.3"/><circle cx="484.7" cy="865.0" r="4.3"/><circle cx="508.0" cy="906.8" r="4.3"/><circle cx="491.6" cy="893.8" r="4.3"/><circle cx="533.2" cy="928.1" r="4.3"/><circle cx="506.0" cy="911.9" r="4.3"/><circle cx="488.8" cy="881.2" r="4.3"/><circle cx="509.9" cy="909.8" r="4.3"/><circle cx="478.2" cy="863.3" r="4.3"/><circle cx="486.0" cy="870.9" r="4.3"/><circle cx="467.0" cy="873.4" r="4.3"/><circle cx="500.0" cy="898.4" r="4.3"/><circle cx="516.4" cy="908.8" r="4.3"/><circle cx="441.3" cy="879.5" r="4.3"/><circle cx="438.6" cy="864.7" r="4.3"/><circle cx="490.2" cy="888.7" r="4.3"/><circle cx="476.1" cy="867.0" r="4.3"/><circle cx="526.1" cy="918.4" r="4.3"/><circle cx="474.0" cy="873.7" r="4.3"/><circle cx="530.8" cy="924.5" r="4.3"/><circle cx="511.7" cy="906.1" r="4.3"/><circle cx="472.6" cy="867.0" r="4.3"/><circle cx="499.3" cy="902.9" r="4.3"/><circle cx="498.9" cy="895.8" r="4.3"/><circle cx="487.4" cy="886.8" r="4.3"/><circle cx="519.2" cy="911.6" r="4.3"/><circle cx="452.9" cy="876.3" r="4.3"/><circle cx="427.2" cy="862.9" r="4.3"/><circle cx="425.5" cy="861.7" r="4.3"/><circle cx="418.7" cy="879.9" r="4.3"/><circle cx="461.2" cy="895.7" r="4.3"/><circle cx="462.4" cy="894.8" r="4.3"/><circle cx="479.4" cy="897.0" r="4.3"/><circle cx="495.2" cy="907.9" r="4.3"/><circle cx="509.8" cy="912.7" r="4.3"/><circle cx="508.6" cy="911.5" r="4.3"/><circle cx="514.6" cy="918.8" r="4.3"/><circle cx="543.8" cy="938.2" r="4.3"/><circle cx="546.2" cy="939.9" r="4.3"/><circle cx="507.4" cy="784.0" r="4.3"/><circle cx="475.8" cy="797.4" r="4.3"/><circle cx="485.5" cy="794.9" r="4.3"/><circle cx="541.4" cy="771.4" r="4.3"/><circle cx="438.1" cy="871.4" r="4.3"/><circle cx="452.7" cy="888.5" r="4.3"/><circle cx="439.3" cy="835.0" r="4.3"/><circle cx="438.1" cy="848.4" r="4.3"/><circle cx="443.0" cy="822.9" r="4.3"/><circle cx="436.4" cy="854.4" r="4.3"/>
</g></g>
<g fill="#53b748" stroke="#53b748">
<path d="M788.2 881.2L795.5 881.2L796.0 896.2L787.7 896.2Z" stroke="none" fill-opacity="0.55" filter="url(#bl)"/>
<path d="M790.4 897.8L792.8 897.6L794.5 905.8L795.7 925.0L796.5 944.4L797.2 968.6L796.7 977.7L794.5 981.7L792.0 982.3L789.1 980.5L787.0 973.1L786.0 956.4L785.8 934.7L787.2 915.4L788.7 903.5Z" stroke-width="5" stroke-linejoin="round"/>
<path d="M790.2 863.3L793.3 863.1L795.8 867.3L796.2 873.5L794.2 878.4L791.7 879.8L789.6 878.5L788.0 873.6L788.4 867.1Z" stroke-width="5" stroke-linejoin="round"/>
<g fill-opacity="0.09" stroke-opacity="0.2" stroke-width="0.9">
<circle cx="768.8" cy="925.5" r="4.3"/><circle cx="780.3" cy="922.7" r="4.3"/><circle cx="776.2" cy="953.1" r="4.3"/><circle cx="782.5" cy="943.7" r="4.3"/><circle cx="782.2" cy="912.5" r="4.3"/><circle cx="774.2" cy="919.9" r="4.3"/><circle cx="774.6" cy="939.9" r="4.3"/><circle cx="780.1" cy="921.6" r="4.3"/><circle cx="778.0" cy="955.1" r="4.3"/><circle cx="782.8" cy="916.5" r="4.3"/><circle cx="779.4" cy="956.7" r="4.3"/><circle cx="779.5" cy="934.0" r="4.3"/><circle cx="776.4" cy="960.4" r="4.3"/><circle cx="774.1" cy="936.4" r="4.3"/><circle cx="782.1" cy="915.9" r="4.3"/><circle cx="782.4" cy="949.4" r="4.3"/><circle cx="783.1" cy="944.9" r="4.3"/><circle cx="776.9" cy="940.9" r="4.3"/><circle cx="781.5" cy="942.1" r="4.3"/><circle cx="782.6" cy="929.8" r="4.3"/><circle cx="774.8" cy="909.5" r="4.3"/><circle cx="784.1" cy="912.9" r="4.3"/><circle cx="781.3" cy="936.4" r="4.3"/><circle cx="775.7" cy="933.1" r="4.3"/><circle cx="776.4" cy="925.5" r="4.3"/><circle cx="776.2" cy="946.5" r="4.3"/><circle cx="775.3" cy="946.1" r="4.3"/><circle cx="783.2" cy="951.6" r="4.3"/><circle cx="781.4" cy="935.0" r="4.3"/><circle cx="782.9" cy="928.0" r="4.3"/><circle cx="783.5" cy="948.6" r="4.3"/><circle cx="783.8" cy="919.2" r="4.3"/><circle cx="783.0" cy="916.4" r="4.3"/><circle cx="783.7" cy="960.7" r="4.3"/><circle cx="771.8" cy="929.3" r="4.3"/><circle cx="779.2" cy="928.7" r="4.3"/><circle cx="773.5" cy="925.3" r="4.3"/><circle cx="780.4" cy="935.9" r="4.3"/><circle cx="791.4" cy="887.4" r="4.3"/><circle cx="794.1" cy="893.9" r="4.3"/><circle cx="795.9" cy="891.2" r="4.3"/><circle cx="785.9" cy="888.4" r="4.3"/><circle cx="793.0" cy="885.5" r="4.3"/><circle cx="790.3" cy="892.8" r="4.3"/><circle cx="791.9" cy="884.1" r="4.3"/><circle cx="790.3" cy="875.7" r="4.3"/><circle cx="791.6" cy="883.7" r="4.3"/><circle cx="791.5" cy="883.8" r="4.3"/><circle cx="789.6" cy="886.7" r="4.3"/><circle cx="797.5" cy="883.8" r="4.3"/><circle cx="789.1" cy="886.6" r="4.3"/><circle cx="793.9" cy="892.3" r="4.3"/><circle cx="793.1" cy="887.5" r="4.3"/><circle cx="791.9" cy="885.6" r="4.3"/><circle cx="791.2" cy="885.5" r="4.3"/><circle cx="788.5" cy="884.7" r="4.3"/><circle cx="795.7" cy="890.6" r="4.3"/><circle cx="790.0" cy="888.5" r="4.3"/><circle cx="790.6" cy="894.1" r="4.3"/><circle cx="791.5" cy="886.2" r="4.3"/><circle cx="792.3" cy="854.6" r="4.3"/><circle cx="790.4" cy="852.5" r="4.3"/><circle cx="791.6" cy="850.8" r="4.3"/><circle cx="790.1" cy="855.9" r="4.3"/><circle cx="792.6" cy="856.1" r="4.3"/><circle cx="790.7" cy="852.8" r="4.3"/><circle cx="791.0" cy="853.0" r="4.3"/><circle cx="793.2" cy="853.5" r="4.3"/><circle cx="791.6" cy="839.4" r="4.3"/><circle cx="783.8" cy="867.8" r="4.3"/><circle cx="784.8" cy="886.0" r="4.3"/><circle cx="794.0" cy="889.7" r="4.3"/><circle cx="798.9" cy="951.6" r="4.3"/><circle cx="800.1" cy="954.0" r="4.3"/><circle cx="797.7" cy="941.9" r="4.3"/><circle cx="715.8" cy="812.2" r="4.3"/><circle cx="721.2" cy="810.2" r="4.3"/><circle cx="720.4" cy="901.8" r="4.3"/><circle cx="734.3" cy="900.1" r="4.3"/><circle cx="728.7" cy="906.2" r="4.3"/><circle cx="714.6" cy="906.9" r="4.3"/><circle cx="717.0" cy="908.6" r="4.3"/><circle cx="719.5" cy="910.6" r="4.3"/><circle cx="712.2" cy="909.3" r="4.3"/><circle cx="710.5" cy="917.6" r="4.3"/><circle cx="725.3" cy="919.3" r="4.3"/><circle cx="715.8" cy="907.9" r="4.3"/><circle cx="737.7" cy="927.6" r="4.3"/><circle cx="741.1" cy="936.5" r="4.3"/><circle cx="752.5" cy="937.8" r="4.3"/><circle cx="747.6" cy="942.4" r="4.3"/><circle cx="744.7" cy="944.8" r="4.3"/><circle cx="750.1" cy="943.6" r="4.3"/><circle cx="746.4" cy="943.1" r="4.3"/><circle cx="763.7" cy="939.9" r="4.3"/><circle cx="754.7" cy="949.4" r="4.3"/><circle cx="760.8" cy="953.1" r="4.3"/><circle cx="762.9" cy="948.2" r="4.3"/><circle cx="771.0" cy="944.8" r="4.3"/><circle cx="775.3" cy="957.2" r="4.3"/>
</g></g>
<g fill="#5dc5bf" stroke="#5dc5bf">
<path d="M1045.6 759.5L1048.3 762.9L1047.6 795.3L1045.9 825.4L1045.2 852.8L1045.9 859.2L1047.8 867.9L1046.9 877.6L1042.5 883.3L1031.5 886.0L1023.9 884.7L1024.0 884.8L1028.7 879.9L1035.6 870.5L1040.4 862.7L1042.8 855.8L1041.3 847.8L1039.1 832.8L1037.6 817.7L1035.8 809.4L1026.5 800.1L1010.2 799.3L994.7 803.0L979.4 810.0L969.3 815.0L964.7 814.5L962.2 811.3L962.8 806.9L969.5 800.1L988.8 790.6L1011.4 780.7L1026.7 773.0L1037.6 763.9L1043.1 759.7Z" stroke-width="5" stroke-linejoin="round"/>
<g fill-opacity="0.09" stroke-opacity="0.2" stroke-width="0.9">
<circle cx="1029.9" cy="833.9" r="4.3"/><circle cx="1015.9" cy="831.7" r="4.3"/><circle cx="1013.0" cy="837.5" r="4.3"/><circle cx="1029.0" cy="824.5" r="4.3"/><circle cx="975.8" cy="816.9" r="4.3"/><circle cx="972.3" cy="816.6" r="4.3"/><circle cx="991.9" cy="835.5" r="4.3"/><circle cx="997.1" cy="815.6" r="4.3"/><circle cx="1025.7" cy="821.8" r="4.3"/><circle cx="1030.9" cy="821.9" r="4.3"/><circle cx="972.0" cy="823.6" r="4.3"/><circle cx="971.3" cy="833.2" r="4.3"/><circle cx="989.0" cy="835.6" r="4.3"/><circle cx="1006.7" cy="823.8" r="4.3"/><circle cx="1019.1" cy="814.5" r="4.3"/><circle cx="1018.0" cy="824.6" r="4.3"/><circle cx="1013.2" cy="821.9" r="4.3"/><circle cx="988.9" cy="817.7" r="4.3"/><circle cx="1018.1" cy="824.4" r="4.3"/><circle cx="1026.3" cy="813.3" r="4.3"/><circle cx="973.3" cy="829.5" r="4.3"/><circle cx="1013.7" cy="840.4" r="4.3"/><circle cx="1023.4" cy="844.0" r="4.3"/><circle cx="993.0" cy="840.5" r="4.3"/><circle cx="1001.2" cy="829.1" r="4.3"/><circle cx="980.8" cy="832.4" r="4.3"/><circle cx="1019.9" cy="842.0" r="4.3"/><circle cx="971.3" cy="830.0" r="4.3"/><circle cx="1003.1" cy="818.0" r="4.3"/><circle cx="1015.3" cy="843.8" r="4.3"/><circle cx="1005.0" cy="815.9" r="4.3"/><circle cx="1004.6" cy="819.3" r="4.3"/><circle cx="970.4" cy="823.7" r="4.3"/><circle cx="1002.1" cy="830.9" r="4.3"/><circle cx="1027.2" cy="831.5" r="4.3"/><circle cx="1030.5" cy="830.8" r="4.3"/><circle cx="1002.4" cy="824.5" r="4.3"/><circle cx="993.2" cy="828.8" r="4.3"/><circle cx="1015.2" cy="814.7" r="4.3"/><circle cx="1003.6" cy="812.5" r="4.3"/><circle cx="1005.7" cy="834.2" r="4.3"/><circle cx="1030.0" cy="815.1" r="4.3"/><circle cx="1001.4" cy="821.2" r="4.3"/><circle cx="990.9" cy="842.4" r="4.3"/><circle cx="1012.9" cy="829.8" r="4.3"/><circle cx="1029.2" cy="817.3" r="4.3"/><circle cx="975.9" cy="835.2" r="4.3"/><circle cx="1005.7" cy="820.6" r="4.3"/><circle cx="1025.9" cy="810.6" r="4.3"/><circle cx="993.2" cy="840.5" r="4.3"/><circle cx="1028.7" cy="809.4" r="4.3"/><circle cx="1033.6" cy="836.0" r="4.3"/><circle cx="1028.6" cy="818.1" r="4.3"/><circle cx="1029.6" cy="815.6" r="4.3"/><circle cx="993.7" cy="825.0" r="4.3"/><circle cx="982.0" cy="842.1" r="4.3"/><circle cx="1028.0" cy="839.3" r="4.3"/><circle cx="1022.3" cy="834.3" r="4.3"/><circle cx="981.1" cy="814.8" r="4.3"/><circle cx="984.9" cy="815.7" r="4.3"/><circle cx="1007.5" cy="828.7" r="4.3"/><circle cx="988.9" cy="828.9" r="4.3"/><circle cx="1019.9" cy="813.8" r="4.3"/><circle cx="990.4" cy="842.2" r="4.3"/><circle cx="1033.7" cy="829.7" r="4.3"/><circle cx="1009.8" cy="836.4" r="4.3"/><circle cx="1011.6" cy="822.5" r="4.3"/><circle cx="987.7" cy="816.4" r="4.3"/><circle cx="1002.6" cy="813.9" r="4.3"/><circle cx="983.7" cy="822.0" r="4.3"/><circle cx="1033.8" cy="828.2" r="4.3"/><circle cx="1000.4" cy="827.6" r="4.3"/><circle cx="975.4" cy="815.6" r="4.3"/><circle cx="992.4" cy="830.0" r="4.3"/><circle cx="1017.6" cy="825.2" r="4.3"/><circle cx="973.8" cy="817.3" r="4.3"/><circle cx="1029.4" cy="841.6" r="4.3"/><circle cx="974.8" cy="818.3" r="4.3"/><circle cx="964.7" cy="819.2" r="4.3"/><circle cx="1034.3" cy="835.1" r="4.3"/><circle cx="978.0" cy="815.3" r="4.3"/><circle cx="1028.7" cy="808.6" r="4.3"/><circle cx="974.7" cy="816.9" r="4.3"/><circle cx="1033.4" cy="821.1" r="4.3"/><circle cx="996.8" cy="813.0" r="4.3"/><circle cx="981.9" cy="814.3" r="4.3"/><circle cx="1022.6" cy="809.7" r="4.3"/><circle cx="1034.2" cy="838.8" r="4.3"/><circle cx="1033.3" cy="820.4" r="4.3"/><circle cx="1033.6" cy="834.8" r="4.3"/><circle cx="1034.5" cy="833.3" r="4.3"/><circle cx="981.1" cy="816.5" r="4.3"/><circle cx="972.9" cy="816.2" r="4.3"/><circle cx="975.6" cy="815.5" r="4.3"/><circle cx="971.2" cy="823.3" r="4.3"/><circle cx="1022.9" cy="833.2" r="4.3"/><circle cx="971.6" cy="817.3" r="4.3"/><circle cx="971.6" cy="819.9" r="4.3"/><circle cx="965.7" cy="817.2" r="4.3"/><circle cx="984.5" cy="820.8" r="4.3"/><circle cx="1020.1" cy="888.3" r="4.3"/><circle cx="1026.3" cy="878.9" r="4.3"/><circle cx="1025.7" cy="872.9" r="4.3"/><circle cx="1021.3" cy="885.4" r="4.3"/><circle cx="1034.8" cy="865.5" r="4.3"/><circle cx="1033.7" cy="864.4" r="4.3"/><circle cx="1031.2" cy="863.9" r="4.3"/><circle cx="1025.9" cy="891.3" r="4.3"/><circle cx="1021.8" cy="881.4" r="4.3"/><circle cx="1030.6" cy="873.5" r="4.3"/><circle cx="1019.7" cy="881.7" r="4.3"/><circle cx="1038.5" cy="856.7" r="4.3"/><circle cx="1027.4" cy="877.0" r="4.3"/><circle cx="1028.0" cy="890.2" r="4.3"/><circle cx="1040.2" cy="886.5" r="4.3"/><circle cx="1039.5" cy="854.8" r="4.3"/><circle cx="1026.5" cy="887.9" r="4.3"/><circle cx="1034.8" cy="857.8" r="4.3"/><circle cx="1038.9" cy="857.9" r="4.3"/><circle cx="1032.7" cy="870.2" r="4.3"/><circle cx="1021.7" cy="888.3" r="4.3"/><circle cx="1019.3" cy="882.7" r="4.3"/><circle cx="983.5" cy="868.5" r="4.3"/><circle cx="1008.8" cy="867.3" r="4.3"/><circle cx="1022.6" cy="871.7" r="4.3"/><circle cx="1020.2" cy="875.1" r="4.3"/><circle cx="1001.7" cy="890.6" r="4.3"/><circle cx="1007.1" cy="894.0" r="4.3"/><circle cx="1014.3" cy="888.2" r="4.3"/><circle cx="1012.6" cy="900.4" r="4.3"/><circle cx="991.0" cy="851.5" r="4.3"/><circle cx="989.6" cy="849.1" r="4.3"/><circle cx="990.3" cy="850.3" r="4.3"/><circle cx="980.1" cy="840.4" r="4.3"/><circle cx="969.9" cy="832.6" r="4.3"/><circle cx="966.5" cy="825.5" r="4.3"/><circle cx="958.7" cy="811.0" r="4.3"/><circle cx="967.7" cy="824.8" r="4.3"/><circle cx="1045.4" cy="884.8" r="4.3"/><circle cx="1024.8" cy="890.9" r="4.3"/>
</g></g>
<g fill="#6c97d0" stroke="#6c97d0">
<path d="M1214.1 811.9L1227.5 802.2L1239.6 793.7L1242.0 804.7L1229.9 810.7L1221.4 816.8Z" stroke="none" fill-opacity="0.5" filter="url(#bl)"/>
<path d="M1236.0 794.5L1242.5 789.9L1253.5 786.4L1260.9 784.9L1273.2 782.3L1278.4 775.4L1282.9 773.8L1286.5 775.8L1288.4 783.0L1287.7 789.5L1281.8 797.3L1267.6 800.3L1252.6 803.2L1241.4 804.6L1235.7 804.6L1234.8 800.7Z" stroke-width="5" stroke-linejoin="round"/>
<circle cx="1215.6" cy="820.0" r="6.8" stroke="none"/>
<circle cx="1217.7" cy="817.8" r="5.8" stroke="none"/>
<g fill-opacity="0.09" stroke-opacity="0.2" stroke-width="0.9">
<circle cx="1290.5" cy="779.4" r="4.3"/><circle cx="1284.2" cy="799.7" r="4.3"/><circle cx="1286.8" cy="773.3" r="4.3"/><circle cx="1256.4" cy="781.8" r="4.3"/><circle cx="1259.8" cy="804.1" r="4.3"/><circle cx="1247.8" cy="783.4" r="4.3"/><circle cx="1261.0" cy="782.5" r="4.3"/><circle cx="1235.1" cy="789.0" r="4.3"/><circle cx="1291.2" cy="783.8" r="4.3"/><circle cx="1281.2" cy="801.9" r="4.3"/><circle cx="1259.0" cy="804.2" r="4.3"/><circle cx="1273.5" cy="775.8" r="4.3"/><circle cx="1264.4" cy="805.9" r="4.3"/><circle cx="1277.4" cy="773.1" r="4.3"/><circle cx="1242.6" cy="807.2" r="4.3"/><circle cx="1264.8" cy="807.2" r="4.3"/><circle cx="1234.3" cy="805.5" r="4.3"/><circle cx="1221.5" cy="808.2" r="4.3"/><circle cx="1234.2" cy="801.0" r="4.3"/><circle cx="1235.1" cy="803.7" r="4.3"/><circle cx="1235.2" cy="804.2" r="4.3"/><circle cx="1216.6" cy="811.1" r="4.3"/><circle cx="1217.9" cy="812.7" r="4.3"/><circle cx="1231.2" cy="804.8" r="4.3"/><circle cx="1220.7" cy="811.9" r="4.3"/><circle cx="1232.5" cy="803.6" r="4.3"/><circle cx="1224.2" cy="813.1" r="4.3"/><circle cx="1229.0" cy="806.5" r="4.3"/><circle cx="1235.5" cy="800.6" r="4.3"/><circle cx="1227.9" cy="815.4" r="4.3"/><circle cx="1218.3" cy="812.7" r="4.3"/><circle cx="1232.1" cy="807.5" r="4.3"/><circle cx="1221.2" cy="816.0" r="4.3"/><circle cx="1232.6" cy="801.1" r="4.3"/><circle cx="1241.4" cy="803.2" r="4.3"/><circle cx="1237.2" cy="802.9" r="4.3"/><circle cx="1220.8" cy="809.9" r="4.3"/><circle cx="1238.5" cy="801.6" r="4.3"/><circle cx="1228.6" cy="807.9" r="4.3"/><circle cx="1229.9" cy="803.8" r="4.3"/><circle cx="1233.4" cy="802.3" r="4.3"/><circle cx="1220.5" cy="814.0" r="4.3"/><circle cx="1230.7" cy="803.7" r="4.3"/><circle cx="1225.3" cy="810.0" r="4.3"/><circle cx="1226.1" cy="811.4" r="4.3"/><circle cx="1222.5" cy="813.6" r="4.3"/><circle cx="1219.7" cy="806.3" r="4.3"/><circle cx="1236.5" cy="809.0" r="4.3"/><circle cx="1224.3" cy="813.7" r="4.3"/><circle cx="1222.2" cy="804.6" r="4.3"/><circle cx="1233.9" cy="800.6" r="4.3"/><circle cx="1212.9" cy="807.8" r="4.3"/><circle cx="1222.6" cy="801.5" r="4.3"/><circle cx="1227.5" cy="805.4" r="4.3"/><circle cx="1232.3" cy="809.5" r="4.3"/><circle cx="1253.7" cy="809.0" r="4.3"/><circle cx="1268.3" cy="805.4" r="4.3"/><circle cx="1258.5" cy="781.1" r="4.3"/><circle cx="1212.4" cy="809.0" r="4.3"/><circle cx="1220.7" cy="810.0" r="4.3"/><circle cx="1283.3" cy="771.4" r="4.3"/>
</g></g>
<g fill="#c56fbe" stroke="#c56fbe">
<path d="M1533.7 793.6L1536.4 793.8L1538.1 808.4L1538.6 842.5L1541.0 862.0L1541.7 871.3L1540.1 880.7L1537.6 890.6L1536.9 907.6L1535.5 915.4L1534.7 915.4L1533.3 905.2L1532.3 888.2L1529.1 871.2L1527.9 852.0L1529.6 830.3L1530.8 806.0L1531.7 795.8Z" stroke-width="5" stroke-linejoin="round"/>
<g fill-opacity="0.09" stroke-opacity="0.2" stroke-width="0.9">
<circle cx="1523.3" cy="846.8" r="4.3"/><circle cx="1528.4" cy="895.2" r="4.3"/><circle cx="1526.8" cy="824.2" r="4.3"/><circle cx="1525.2" cy="811.8" r="4.3"/><circle cx="1528.1" cy="812.1" r="4.3"/><circle cx="1530.2" cy="900.6" r="4.3"/><circle cx="1525.3" cy="864.0" r="4.3"/><circle cx="1520.6" cy="819.5" r="4.3"/><circle cx="1526.3" cy="864.7" r="4.3"/><circle cx="1528.1" cy="883.9" r="4.3"/><circle cx="1527.1" cy="832.2" r="4.3"/><circle cx="1529.0" cy="796.7" r="4.3"/><circle cx="1525.2" cy="806.5" r="4.3"/><circle cx="1527.2" cy="830.9" r="4.3"/><circle cx="1530.7" cy="915.5" r="4.3"/><circle cx="1526.4" cy="838.8" r="4.3"/><circle cx="1531.9" cy="920.0" r="4.3"/><circle cx="1530.8" cy="918.4" r="4.3"/><circle cx="1527.9" cy="819.3" r="4.3"/><circle cx="1529.5" cy="893.0" r="4.3"/><circle cx="1525.7" cy="821.6" r="4.3"/><circle cx="1525.9" cy="833.6" r="4.3"/><circle cx="1525.5" cy="849.1" r="4.3"/><circle cx="1526.7" cy="802.7" r="4.3"/><circle cx="1527.8" cy="811.8" r="4.3"/><circle cx="1526.2" cy="871.4" r="4.3"/><circle cx="1526.8" cy="827.2" r="4.3"/><circle cx="1525.6" cy="849.7" r="4.3"/><circle cx="1529.1" cy="800.5" r="4.3"/><circle cx="1528.0" cy="818.0" r="4.3"/><circle cx="1524.4" cy="816.7" r="4.3"/><circle cx="1528.1" cy="801.4" r="4.3"/><circle cx="1526.0" cy="833.5" r="4.3"/><circle cx="1528.2" cy="805.1" r="4.3"/><circle cx="1522.8" cy="861.3" r="4.3"/><circle cx="1529.9" cy="906.9" r="4.3"/><circle cx="1527.7" cy="811.2" r="4.3"/><circle cx="1530.2" cy="891.9" r="4.3"/><circle cx="1529.4" cy="885.9" r="4.3"/><circle cx="1523.6" cy="837.0" r="4.3"/><circle cx="1533.6" cy="909.0" r="4.3"/><circle cx="1532.9" cy="918.8" r="4.3"/><circle cx="1537.4" cy="914.3" r="4.3"/><circle cx="1535.9" cy="919.3" r="4.3"/><circle cx="1535.4" cy="917.5" r="4.3"/><circle cx="1534.3" cy="916.0" r="4.3"/><circle cx="1537.2" cy="920.5" r="4.3"/><circle cx="1537.3" cy="912.8" r="4.3"/><circle cx="1535.4" cy="913.4" r="4.3"/><circle cx="1533.0" cy="923.5" r="4.3"/><circle cx="1534.7" cy="919.2" r="4.3"/><circle cx="1532.9" cy="915.9" r="4.3"/><circle cx="1535.0" cy="915.0" r="4.3"/><circle cx="1536.9" cy="920.6" r="4.3"/><circle cx="1535.4" cy="919.1" r="4.3"/><circle cx="1534.5" cy="912.9" r="4.3"/><circle cx="1534.7" cy="910.9" r="4.3"/><circle cx="1534.9" cy="916.8" r="4.3"/><circle cx="1537.1" cy="914.7" r="4.3"/><circle cx="1539.2" cy="914.2" r="4.3"/><circle cx="1535.4" cy="917.4" r="4.3"/><circle cx="1534.2" cy="917.2" r="4.3"/><circle cx="1532.3" cy="924.9" r="4.3"/><circle cx="1534.2" cy="917.4" r="4.3"/><circle cx="1532.2" cy="921.3" r="4.3"/><circle cx="1533.1" cy="926.4" r="4.3"/><circle cx="1533.5" cy="912.8" r="4.3"/><circle cx="1536.3" cy="925.9" r="4.3"/><circle cx="1531.9" cy="906.5" r="4.3"/><circle cx="1537.9" cy="920.5" r="4.3"/><circle cx="1532.7" cy="914.7" r="4.3"/><circle cx="1536.4" cy="915.0" r="4.3"/><circle cx="1537.7" cy="912.9" r="4.3"/><circle cx="1535.5" cy="925.1" r="4.3"/><circle cx="1537.7" cy="919.1" r="4.3"/><circle cx="1536.2" cy="915.4" r="4.3"/><circle cx="1535.1" cy="913.8" r="4.3"/><circle cx="1535.8" cy="923.1" r="4.3"/><circle cx="1533.5" cy="910.0" r="4.3"/><circle cx="1535.3" cy="930.6" r="4.3"/><circle cx="1458.4" cy="851.0" r="4.3"/><circle cx="1456.6" cy="841.2" r="4.3"/><circle cx="1452.3" cy="858.5" r="4.3"/><circle cx="1443.3" cy="860.1" r="4.3"/><circle cx="1449.1" cy="861.4" r="4.3"/><circle cx="1473.9" cy="858.4" r="4.3"/><circle cx="1456.0" cy="853.5" r="4.3"/><circle cx="1453.4" cy="847.9" r="4.3"/><circle cx="1458.2" cy="833.2" r="4.3"/><circle cx="1460.5" cy="848.6" r="4.3"/><circle cx="1449.9" cy="848.8" r="4.3"/><circle cx="1461.1" cy="846.1" r="4.3"/><circle cx="1459.2" cy="843.0" r="4.3"/><circle cx="1457.5" cy="844.0" r="4.3"/><circle cx="1461.9" cy="844.6" r="4.3"/><circle cx="1460.9" cy="839.5" r="4.3"/><circle cx="1458.1" cy="856.3" r="4.3"/><circle cx="1451.5" cy="850.6" r="4.3"/><circle cx="1451.3" cy="852.9" r="4.3"/><circle cx="1461.8" cy="856.5" r="4.3"/><circle cx="1465.6" cy="857.4" r="4.3"/><circle cx="1452.2" cy="850.9" r="4.3"/><circle cx="1460.4" cy="851.3" r="4.3"/><circle cx="1448.4" cy="861.3" r="4.3"/><circle cx="1473.5" cy="850.6" r="4.3"/><circle cx="1455.7" cy="862.6" r="4.3"/><circle cx="1450.1" cy="853.1" r="4.3"/><circle cx="1462.1" cy="842.5" r="4.3"/><circle cx="1454.7" cy="852.9" r="4.3"/><circle cx="1461.2" cy="852.4" r="4.3"/><circle cx="1492.2" cy="849.4" r="4.3"/><circle cx="1474.4" cy="838.5" r="4.3"/><circle cx="1497.4" cy="826.1" r="4.3"/><circle cx="1474.0" cy="837.3" r="4.3"/><circle cx="1484.6" cy="834.0" r="4.3"/><circle cx="1486.9" cy="833.8" r="4.3"/><circle cx="1491.7" cy="830.1" r="4.3"/><circle cx="1488.5" cy="829.8" r="4.3"/><circle cx="1480.6" cy="838.1" r="4.3"/><circle cx="1481.0" cy="839.7" r="4.3"/><circle cx="1488.5" cy="844.7" r="4.3"/><circle cx="1494.3" cy="816.8" r="4.3"/><circle cx="1488.5" cy="840.9" r="4.3"/><circle cx="1489.8" cy="835.3" r="4.3"/><circle cx="1498.9" cy="841.0" r="4.3"/><circle cx="1476.2" cy="835.7" r="4.3"/><circle cx="1498.1" cy="836.3" r="4.3"/><circle cx="1476.8" cy="841.9" r="4.3"/><circle cx="1494.4" cy="845.3" r="4.3"/><circle cx="1490.4" cy="835.9" r="4.3"/><circle cx="1496.7" cy="824.9" r="4.3"/><circle cx="1504.8" cy="838.5" r="4.3"/><circle cx="1490.8" cy="841.7" r="4.3"/><circle cx="1496.1" cy="815.0" r="4.3"/><circle cx="1497.4" cy="833.9" r="4.3"/><circle cx="1481.4" cy="843.1" r="4.3"/><circle cx="1497.5" cy="838.3" r="4.3"/><circle cx="1482.9" cy="835.8" r="4.3"/><circle cx="1479.8" cy="857.7" r="4.3"/><circle cx="1482.6" cy="842.8" r="4.3"/><circle cx="1504.0" cy="827.1" r="4.3"/><circle cx="1483.7" cy="814.6" r="4.3"/><circle cx="1505.7" cy="835.3" r="4.3"/><circle cx="1508.9" cy="844.8" r="4.3"/><circle cx="1507.7" cy="847.0" r="4.3"/><circle cx="1503.8" cy="847.7" r="4.3"/><circle cx="1507.1" cy="840.5" r="4.3"/><circle cx="1505.1" cy="841.8" r="4.3"/><circle cx="1497.1" cy="846.5" r="4.3"/><circle cx="1492.4" cy="851.2" r="4.3"/><circle cx="1507.4" cy="848.1" r="4.3"/><circle cx="1517.1" cy="854.9" r="4.3"/><circle cx="1504.0" cy="849.7" r="4.3"/><circle cx="1517.4" cy="845.3" r="4.3"/><circle cx="1510.7" cy="850.3" r="4.3"/><circle cx="1499.2" cy="849.1" r="4.3"/><circle cx="1504.4" cy="844.4" r="4.3"/><circle cx="1511.2" cy="852.3" r="4.3"/><circle cx="1500.3" cy="844.5" r="4.3"/><circle cx="1506.0" cy="838.5" r="4.3"/><circle cx="1510.7" cy="844.9" r="4.3"/><circle cx="1501.9" cy="854.8" r="4.3"/><circle cx="1507.0" cy="836.7" r="4.3"/><circle cx="1506.9" cy="845.1" r="4.3"/><circle cx="1510.0" cy="866.1" r="4.3"/><circle cx="1512.1" cy="859.1" r="4.3"/><circle cx="1506.2" cy="850.7" r="4.3"/><circle cx="1511.7" cy="845.8" r="4.3"/><circle cx="1509.6" cy="842.8" r="4.3"/><circle cx="1513.3" cy="838.9" r="4.3"/><circle cx="1521.7" cy="814.7" r="4.3"/><circle cx="1496.3" cy="845.6" r="4.3"/><circle cx="1474.5" cy="854.9" r="4.3"/><circle cx="1455.9" cy="857.1" r="4.3"/><circle cx="1462.8" cy="855.4" r="4.3"/><circle cx="1467.1" cy="851.6" r="4.3"/><circle cx="1456.8" cy="843.4" r="4.3"/><circle cx="1465.8" cy="845.3" r="4.3"/><circle cx="1473.3" cy="842.7" r="4.3"/><circle cx="1473.1" cy="858.1" r="4.3"/><circle cx="1464.1" cy="846.2" r="4.3"/><circle cx="1467.8" cy="860.0" r="4.3"/><circle cx="1484.1" cy="870.8" r="4.3"/><circle cx="1471.9" cy="858.7" r="4.3"/><circle cx="1472.8" cy="853.6" r="4.3"/><circle cx="1461.0" cy="851.0" r="4.3"/><circle cx="1481.5" cy="864.7" r="4.3"/><circle cx="1476.4" cy="867.0" r="4.3"/><circle cx="1467.1" cy="811.6" r="4.3"/><circle cx="1506.4" cy="857.6" r="4.3"/><circle cx="1511.4" cy="831.2" r="4.3"/><circle cx="1502.2" cy="819.1" r="4.3"/><circle cx="1469.0" cy="866.6" r="4.3"/><circle cx="1515.8" cy="866.8" r="4.3"/><circle cx="1491.8" cy="851.6" r="4.3"/><circle cx="1476.6" cy="831.3" r="4.3"/><circle cx="1521.9" cy="853.9" r="4.3"/><circle cx="1522.9" cy="815.3" r="4.3"/><circle cx="1480.6" cy="865.0" r="4.3"/><circle cx="1521.9" cy="858.7" r="4.3"/><circle cx="1518.6" cy="822.6" r="4.3"/><circle cx="1504.8" cy="812.3" r="4.3"/><circle cx="1484.3" cy="806.2" r="4.3"/><circle cx="1482.2" cy="818.1" r="4.3"/><circle cx="1480.3" cy="849.0" r="4.3"/><circle cx="1501.7" cy="862.7" r="4.3"/><circle cx="1522.4" cy="825.4" r="4.3"/><circle cx="1474.3" cy="832.7" r="4.3"/><circle cx="1467.8" cy="860.2" r="4.3"/><circle cx="1511.1" cy="848.6" r="4.3"/><circle cx="1499.5" cy="824.5" r="4.3"/><circle cx="1469.8" cy="854.9" r="4.3"/><circle cx="1454.9" cy="869.9" r="4.3"/><circle cx="1459.1" cy="819.0" r="4.3"/><circle cx="1508.5" cy="864.6" r="4.3"/><circle cx="1460.0" cy="866.5" r="4.3"/><circle cx="1488.4" cy="813.6" r="4.3"/><circle cx="1491.3" cy="820.5" r="4.3"/><circle cx="1499.5" cy="846.3" r="4.3"/><circle cx="1514.5" cy="865.2" r="4.3"/><circle cx="1516.7" cy="849.3" r="4.3"/><circle cx="1506.0" cy="861.9" r="4.3"/><circle cx="1514.7" cy="837.7" r="4.3"/><circle cx="1523.0" cy="867.9" r="4.3"/><circle cx="1463.3" cy="819.2" r="4.3"/><circle cx="1496.8" cy="840.9" r="4.3"/><circle cx="1481.4" cy="837.8" r="4.3"/><circle cx="1464.2" cy="832.6" r="4.3"/><circle cx="1495.1" cy="854.3" r="4.3"/><circle cx="1504.2" cy="812.1" r="4.3"/><circle cx="1464.3" cy="836.8" r="4.3"/><circle cx="1509.5" cy="823.4" r="4.3"/><circle cx="1506.7" cy="820.4" r="4.3"/><circle cx="1471.8" cy="860.7" r="4.3"/><circle cx="1463.2" cy="860.1" r="4.3"/><circle cx="1491.7" cy="807.1" r="4.3"/><circle cx="1485.2" cy="840.6" r="4.3"/><circle cx="1457.5" cy="829.7" r="4.3"/><circle cx="1486.4" cy="836.2" r="4.3"/><circle cx="1521.4" cy="830.6" r="4.3"/><circle cx="1519.4" cy="824.5" r="4.3"/><circle cx="1507.3" cy="815.6" r="4.3"/><circle cx="1494.3" cy="854.0" r="4.3"/><circle cx="1513.9" cy="808.8" r="4.3"/><circle cx="1507.2" cy="815.5" r="4.3"/><circle cx="1525.0" cy="825.2" r="4.3"/><circle cx="1516.0" cy="816.2" r="4.3"/><circle cx="1524.7" cy="876.8" r="4.3"/><circle cx="1490.6" cy="893.6" r="4.3"/><circle cx="1513.0" cy="893.0" r="4.3"/><circle cx="1503.8" cy="884.2" r="4.3"/><circle cx="1498.2" cy="890.4" r="4.3"/><circle cx="1514.4" cy="882.6" r="4.3"/><circle cx="1450.2" cy="900.0" r="4.3"/><circle cx="1483.6" cy="893.1" r="4.3"/><circle cx="1502.0" cy="892.8" r="4.3"/><circle cx="1496.1" cy="893.5" r="4.3"/><circle cx="1470.1" cy="899.5" r="4.3"/><circle cx="1480.6" cy="894.9" r="4.3"/><circle cx="1466.0" cy="903.6" r="4.3"/><circle cx="1487.0" cy="895.4" r="4.3"/><circle cx="1522.8" cy="878.0" r="4.3"/><circle cx="1502.3" cy="894.7" r="4.3"/><circle cx="1505.3" cy="881.1" r="4.3"/><circle cx="1520.6" cy="883.0" r="4.3"/><circle cx="1477.8" cy="902.2" r="4.3"/><circle cx="1460.4" cy="902.0" r="4.3"/><circle cx="1460.0" cy="909.2" r="4.3"/><circle cx="1457.1" cy="908.6" r="4.3"/><circle cx="1447.8" cy="901.1" r="4.3"/><circle cx="1465.0" cy="906.5" r="4.3"/><circle cx="1525.3" cy="879.2" r="4.3"/><circle cx="1458.2" cy="899.7" r="4.3"/><circle cx="1504.4" cy="884.7" r="4.3"/><circle cx="1494.0" cy="890.4" r="4.3"/><circle cx="1524.2" cy="877.5" r="4.3"/><circle cx="1509.7" cy="885.3" r="4.3"/><circle cx="1511.8" cy="884.5" r="4.3"/><circle cx="1506.5" cy="878.8" r="4.3"/><circle cx="1499.6" cy="895.2" r="4.3"/><circle cx="1489.5" cy="897.0" r="4.3"/><circle cx="1477.9" cy="897.8" r="4.3"/><circle cx="1480.5" cy="890.9" r="4.3"/><circle cx="1478.9" cy="903.0" r="4.3"/><circle cx="1455.1" cy="904.8" r="4.3"/><circle cx="1491.0" cy="899.8" r="4.3"/><circle cx="1478.0" cy="905.2" r="4.3"/><circle cx="1477.6" cy="888.0" r="4.3"/><circle cx="1458.2" cy="902.9" r="4.3"/><circle cx="1517.2" cy="884.0" r="4.3"/><circle cx="1502.9" cy="884.7" r="4.3"/><circle cx="1516.3" cy="888.0" r="4.3"/><circle cx="1526.9" cy="880.7" r="4.3"/><circle cx="1500.0" cy="892.6" r="4.3"/><circle cx="1481.0" cy="890.7" r="4.3"/><circle cx="1479.6" cy="895.0" r="4.3"/><circle cx="1491.9" cy="888.6" r="4.3"/><circle cx="1481.1" cy="897.5" r="4.3"/><circle cx="1510.1" cy="887.4" r="4.3"/><circle cx="1467.1" cy="904.5" r="4.3"/><circle cx="1522.1" cy="884.2" r="4.3"/><circle cx="1523.8" cy="879.9" r="4.3"/><circle cx="1503.9" cy="887.6" r="4.3"/><circle cx="1489.4" cy="899.2" r="4.3"/><circle cx="1455.2" cy="905.9" r="4.3"/><circle cx="1470.3" cy="900.1" r="4.3"/><circle cx="1482.7" cy="903.6" r="4.3"/><circle cx="1490.5" cy="890.3" r="4.3"/><circle cx="1498.4" cy="883.3" r="4.3"/><circle cx="1475.0" cy="892.2" r="4.3"/><circle cx="1499.0" cy="889.4" r="4.3"/><circle cx="1469.5" cy="902.6" r="4.3"/><circle cx="1478.9" cy="894.5" r="4.3"/><circle cx="1452.4" cy="911.4" r="4.3"/><circle cx="1470.5" cy="893.2" r="4.3"/><circle cx="1508.3" cy="880.7" r="4.3"/><circle cx="1481.3" cy="894.6" r="4.3"/><circle cx="1463.6" cy="907.3" r="4.3"/><circle cx="1460.6" cy="903.4" r="4.3"/><circle cx="1461.9" cy="900.6" r="4.3"/><circle cx="1466.9" cy="906.0" r="4.3"/><circle cx="1456.5" cy="907.7" r="4.3"/><circle cx="1477.0" cy="903.5" r="4.3"/><circle cx="1467.4" cy="899.7" r="4.3"/><circle cx="1462.2" cy="904.0" r="4.3"/><circle cx="1464.0" cy="907.3" r="4.3"/><circle cx="1459.5" cy="902.2" r="4.3"/><circle cx="1467.4" cy="902.7" r="4.3"/><circle cx="1463.1" cy="902.6" r="4.3"/><circle cx="1466.7" cy="896.9" r="4.3"/><circle cx="1479.0" cy="905.3" r="4.3"/><circle cx="1458.6" cy="900.1" r="4.3"/><circle cx="1458.1" cy="904.4" r="4.3"/><circle cx="1454.1" cy="910.7" r="4.3"/><circle cx="1461.4" cy="898.5" r="4.3"/><circle cx="1476.0" cy="903.0" r="4.3"/><circle cx="1467.3" cy="902.4" r="4.3"/><circle cx="1463.0" cy="909.5" r="4.3"/><circle cx="1453.4" cy="903.8" r="4.3"/><circle cx="1460.3" cy="901.9" r="4.3"/><circle cx="1464.1" cy="897.2" r="4.3"/><circle cx="1468.0" cy="903.6" r="4.3"/><circle cx="1467.6" cy="901.1" r="4.3"/><circle cx="1468.6" cy="901.5" r="4.3"/><circle cx="1468.8" cy="907.2" r="4.3"/><circle cx="1468.0" cy="898.4" r="4.3"/><circle cx="1464.9" cy="899.7" r="4.3"/><circle cx="1475.4" cy="903.6" r="4.3"/><circle cx="1457.3" cy="898.2" r="4.3"/><circle cx="1471.9" cy="899.8" r="4.3"/><circle cx="1466.8" cy="901.9" r="4.3"/><circle cx="1463.7" cy="901.6" r="4.3"/><circle cx="1479.3" cy="924.0" r="4.3"/><circle cx="1506.5" cy="912.9" r="4.3"/><circle cx="1507.7" cy="911.7" r="4.3"/><circle cx="1523.0" cy="909.3" r="4.3"/><circle cx="1524.2" cy="907.7" r="4.3"/><circle cx="1464.0" cy="810.2" r="4.3"/><circle cx="1504.1" cy="806.7" r="4.3"/><circle cx="1534.8" cy="935.3" r="4.3"/><circle cx="1535.5" cy="934.6" r="4.3"/><circle cx="1534.4" cy="936.5" r="4.3"/><circle cx="1447.5" cy="911.7" r="4.3"/><circle cx="1445.1" cy="904.6" r="4.3"/><circle cx="1454.1" cy="882.7" r="4.3"/>
</g></g>
<text x="201.0" y="742.1" font-size="25" text-anchor="middle">AFR</text>
<text x="113.0" y="1017.5" font-size="20.6" text-anchor="middle">-0.3</text>
<text x="159.9" y="1017.5" font-size="20.6" text-anchor="middle">-0.2</text>
<text x="206.8" y="1017.5" font-size="20.6" text-anchor="middle">-0.1</text>
<text x="253.7" y="1017.5" font-size="20.6" text-anchor="middle">0.0</text>
<text x="300.6" y="1017.5" font-size="20.6" text-anchor="middle">0.1</text>
<text x="449.0" y="742.1" font-size="25" text-anchor="middle">AMR</text>
<text x="360.5" y="1017.5" font-size="20.6" text-anchor="middle">-0.3</text>
<text x="407.4" y="1017.5" font-size="20.6" text-anchor="middle">-0.2</text>
<text x="454.3" y="1017.5" font-size="20.6" text-anchor="middle">-0.1</text>
<text x="501.2" y="1017.5" font-size="20.6" text-anchor="middle">0.0</text>
<text x="548.1" y="1017.5" font-size="20.6" text-anchor="middle">0.1</text>
<text x="697.7" y="742.1" font-size="25" text-anchor="middle">EAS</text>
<text x="608.2" y="1017.5" font-size="20.6" text-anchor="middle">-0.3</text>
<text x="655.1" y="1017.5" font-size="20.6" text-anchor="middle">-0.2</text>
<text x="702.0" y="1017.5" font-size="20.6" text-anchor="middle">-0.1</text>
<text x="748.9" y="1017.5" font-size="20.6" text-anchor="middle">0.0</text>
<text x="795.8" y="1017.5" font-size="20.6" text-anchor="middle">0.1</text>
<text x="948.0" y="742.1" font-size="25" text-anchor="middle">EUR</text>
<text x="859.8" y="1017.5" font-size="20.6" text-anchor="middle">-0.3</text>
<text x="906.7" y="1017.5" font-size="20.6" text-anchor="middle">-0.2</text>
<text x="953.6" y="1017.5" font-size="20.6" text-anchor="middle">-0.1</text>
<text x="1000.5" y="1017.5" font-size="20.6" text-anchor="middle">0.0</text>
<text x="1047.4" y="1017.5" font-size="20.6" text-anchor="middle">0.1</text>
<text x="1196.0" y="742.1" font-size="25" text-anchor="middle">MID</text>
<text x="1107.7" y="1017.5" font-size="20.6" text-anchor="middle">-0.3</text>
<text x="1154.6" y="1017.5" font-size="20.6" text-anchor="middle">-0.2</text>
<text x="1201.5" y="1017.5" font-size="20.6" text-anchor="middle">-0.1</text>
<text x="1248.4" y="1017.5" font-size="20.6" text-anchor="middle">0.0</text>
<text x="1295.3" y="1017.5" font-size="20.6" text-anchor="middle">0.1</text>
<text x="1444.0" y="742.1" font-size="25" text-anchor="middle">SAS</text>
<text x="1355.7" y="1017.5" font-size="20.6" text-anchor="middle">-0.3</text>
<text x="1402.6" y="1017.5" font-size="20.6" text-anchor="middle">-0.2</text>
<text x="1449.5" y="1017.5" font-size="20.6" text-anchor="middle">-0.1</text>
<text x="1496.4" y="1017.5" font-size="20.6" text-anchor="middle">0.0</text>
<text x="1543.3" y="1017.5" font-size="20.6" text-anchor="middle">0.1</text>
<path d="M85 716.6H317V750.8H85ZM333 716.6H565V750.8H333ZM581.6 716.6H813.8V750.8H581.6ZM831.8 716.6H1064.2V750.8H831.8ZM1080 716.6H1312V750.8H1080ZM1328 716.6H1560V750.8H1328Z" stroke="#000" stroke-width="1.65" fill="none"/>
<text x="77" y="800.0" font-size="20.8" text-anchor="end">0.1</text>
<text x="76.7" y="867.0" font-size="20.8" text-anchor="end">0.2</text>
<text x="75.2" y="933.0" font-size="20.8" text-anchor="end">-0.1</text>
<text x="75.3" y="999.4000000000001" font-size="20.8" text-anchor="end">-0.2</text>
<path d="M79.6 991.2H319.8M113.0 991.2V997M159.9 991.2V997M206.8 991.2V997M253.7 991.2V997M300.6 991.2V997M332.7 991.2H567.8M360.5 991.2V997M407.4 991.2V997M454.3 991.2V997M501.2 991.2V997M548.1 991.2V997M580.5 991.2H815.7M608.2 991.2V997M655.1 991.2V997M702.0 991.2V997M748.9 991.2V997M795.8 991.2V997M826.5 991.2H1066.8M859.8 991.2V997M906.7 991.2V997M953.6 991.2V997M1000.5 991.2V997M1047.4 991.2V997M1079.4 991.2H1314.8M1107.7 991.2V997M1154.6 991.2V997M1201.5 991.2V997M1248.4 991.2V997M1295.3 991.2V997M1327.2 991.2H1562.8M1355.7 991.2V997M1402.6 991.2V997M1449.5 991.2V997M1496.4 991.2V997M1543.3 991.2V997M85 750V991.2M79.6 791.8H85M79.6 858.8H85M79.6 924.8H85M79.6 991.2H85" stroke="#000" stroke-width="1.65" fill="none"/>
<text x="828" y="1049.4" font-size="24.7" text-anchor="middle">PC1</text>
<text x="22.9" y="866" font-size="24.6" text-anchor="middle" transform="rotate(-90 22.9 866)">PC2</text>
</g>
<g id="panel-e">
<text x="1605" y="690" font-size="32" font-weight="bold">e</text>
<text x="1707" y="689.8" font-size="29.05">AoU no outlier cohort</text>
<path d="M1725.1 781.8h0M1731.9 773.3h0M1740.0 737.2h0M1747.8 811.0h0M1755.3 819.4h0M1763.1 776.5h0M1770.3 820.9h0M1778.2 807.6h0M1785.9 816.5h0M1793.3 848.8h0M1800.7 816.5h0M1808.4 852.0h0M1816.0 846.4h0M1823.7 818.6h0M1831.3 822.8h0M1838.8 825.0h0M1846.2 807.3h0M1853.7 832.2h0M1861.3 853.4h0M1868.8 828.4h0M1877.0 829.4h0M1883.6 838.4h0M1891.7 815.2h0M1899.3 827.1h0M1907.2 824.6h0M1914.6 863.0h0M1922.2 865.8h0M1929.3 848.8h0M1936.9 827.5h0M1944.8 828.0h0M1952.4 842.0h0M1959.5 849.2h0M1967.5 848.8h0M1974.7 829.4h0M1982.6 826.9h0M1990.1 858.3h0M1997.7 809.9h0M2005.2 821.4h0M2012.8 820.5h0M2020.5 821.8h0M2027.9 851.7h0M2035.5 818.6h0M2043.0 826.2h0M2050.8 825.6h0M2058.1 842.0h0M2065.9 836.4h0M2073.2 806.3h0M2081.0 844.5h0M2088.5 832.8h0M2095.9 806.1h0M2103.1 806.7h0M2111.2 797.3h0M2118.9 753.4h0" stroke="#808080" stroke-width="12" stroke-linecap="round" fill="none"/>
<path d="M1725.3 753.8C1727.3 756.8 1733.7 766.4 1737.2 771.8C1740.8 777.1 1743.5 781.4 1746.7 785.9C1749.8 790.5 1753.0 795.1 1756.1 799.2C1759.2 803.2 1762.4 807.1 1765.5 810.5C1768.7 813.8 1771.8 816.7 1775.0 819.4C1778.1 822.0 1781.3 824.3 1784.4 826.2C1787.6 828.0 1790.7 829.4 1793.9 830.3C1797.0 831.3 1800.2 831.6 1803.3 831.8C1806.5 832.1 1809.6 832.0 1812.8 831.8C1815.9 831.6 1819.1 831.2 1822.2 830.7C1825.3 830.2 1828.5 829.4 1831.6 828.8C1834.8 828.2 1837.9 827.7 1841.1 827.3C1844.2 826.9 1847.4 826.6 1850.5 826.5C1853.7 826.5 1856.8 826.5 1860.0 826.9C1863.1 827.3 1866.3 828.0 1869.4 828.8C1872.6 829.6 1875.7 830.8 1878.9 831.8C1882.0 832.9 1885.2 834.1 1888.3 835.2C1891.4 836.3 1894.6 837.5 1897.7 838.4C1900.9 839.4 1904.0 840.2 1907.2 840.9C1910.3 841.6 1913.5 842.2 1916.6 842.6C1919.8 842.9 1924.0 843.0 1926.1 843.0C1928.2 843.0 1927.2 843.0 1929.3 842.6C1931.4 842.2 1935.6 841.5 1938.8 840.7C1941.9 839.9 1945.1 838.8 1948.2 837.9C1951.4 837.0 1954.5 836.1 1957.7 835.2C1960.8 834.4 1964.0 833.5 1967.1 832.8C1970.2 832.0 1973.4 831.3 1976.5 830.9C1979.7 830.4 1982.8 830.2 1986.0 830.1C1989.1 830.0 1992.3 830.2 1995.4 830.3C1998.6 830.4 2001.7 830.7 2004.9 830.9C2008.0 831.1 2011.2 831.3 2014.3 831.4C2017.5 831.6 2020.6 831.6 2023.8 831.6C2026.9 831.7 2030.1 831.8 2033.2 831.6C2036.3 831.5 2039.5 831.3 2042.6 830.9C2045.8 830.5 2048.9 829.9 2052.1 829.2C2055.2 828.5 2058.4 827.5 2061.5 826.5C2064.7 825.5 2067.8 824.4 2071.0 823.1C2074.1 821.9 2077.3 820.4 2080.4 819.0C2083.6 817.5 2086.7 816.0 2089.9 814.4C2093.0 812.9 2096.2 811.5 2099.3 809.9C2102.4 808.4 2105.6 806.8 2108.7 805.2C2111.9 803.6 2116.6 801.3 2118.2 800.5" stroke="#3b7cc0" stroke-width="8.5" fill="none"/>
<path d="M1705.4 725.8V982H2138.7" stroke="#000" stroke-width="1.7" fill="none"/>
<text x="1695" y="741.8" font-size="25" text-anchor="end">0.25</text>
<text x="1695" y="856.4" font-size="25" text-anchor="end">0.20</text>
<text x="1695" y="971.4" font-size="25" text-anchor="end">0.15</text>
<text x="1724.9" y="1013.4" font-size="25" text-anchor="middle">1</text>
<text x="1815.9" y="1013.4" font-size="25" text-anchor="middle">13</text>
<text x="1914.3" y="1013.4" font-size="25" text-anchor="middle">26</text>
<text x="2012.8" y="1013.4" font-size="25" text-anchor="middle">39</text>
<text x="2111.3" y="1013.4" font-size="25" text-anchor="middle">52</text>
<path d="M1699.7 735.8H1705.4M1699.7 851H1705.4M1699.7 966H1705.4M1724.9 982V988.5M1815.9 982V988.5M1914.3 982V988.5M2012.8 982V988.5M2111.3 982V988.5" stroke="#000" stroke-width="1.6" fill="none"/>
<text x="1926.6" y="1049.2" font-size="25" text-anchor="middle">Week of the year of sample collection</text>
<text x="1623.3" y="855.6" font-size="25" text-anchor="middle" transform="rotate(-90 1623.3 855.6)">Prevalence of EBVread+</text>
</g>
</svg></body></html>
